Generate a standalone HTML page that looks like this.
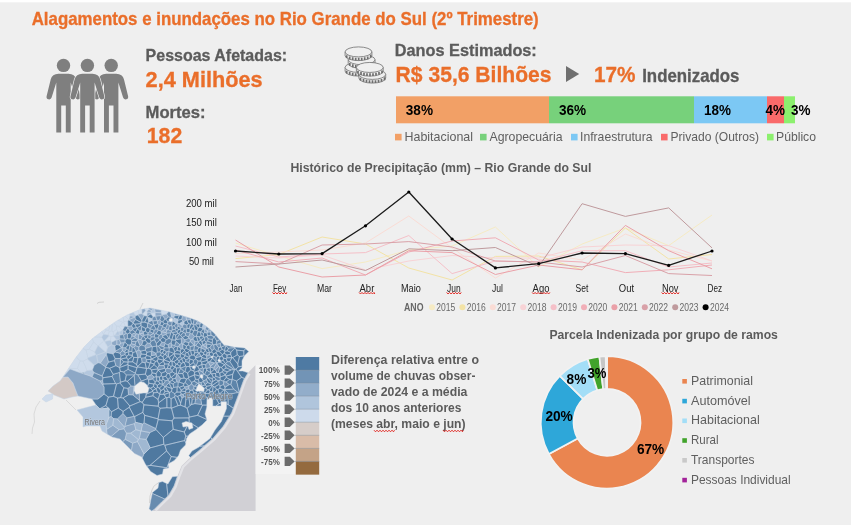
<!DOCTYPE html>
<html lang="pt-BR"><head><meta charset="utf-8"><title>Alagamentos e inundações no Rio Grande do Sul</title>
<style>
html,body{margin:0;padding:0;background:#efefef;}
body{width:851px;height:525px;overflow:hidden;font-family:"Liberation Sans", sans-serif;}
svg{display:block;font-family:"Liberation Sans", sans-serif;}
</style></head><body>
<svg width="851" height="525" viewBox="0 0 851 525">
<rect x="0" y="0" width="851" height="525" fill="#efefef"/>
<rect x="0" y="0" width="851" height="2.3" fill="#ffffff"/>
<text x="31.7" y="25.2" font-size="17.8" fill="#ea6e2a" font-weight="bold" textLength="507" lengthAdjust="spacingAndGlyphs" stroke="#ea6e2a" stroke-width="0.3">Alagamentos e inundações no Rio Grande do Sul (2º Trimestre)</text>
<g fill="#7f7f7f">
<circle cx="63.5" cy="65.4" r="6.7"/><path d="M58.5,73.8 L68.5,73.8 Q74.9,74 76.3,79.5 L80.4,96.2 A2.6 2.6 0 0 1 75.4,97.6 L70.7,82.5 L70.7,132.4 L65.8,132.4 L65.8,105.6 L61.2,105.6 L61.2,132.4 L56.3,132.4 L56.3,82.5 L51.6,97.6 A2.6 2.6 0 0 1 46.6,96.2 L50.7,79.5 Q52.1,74 58.5,73.8 Z"/>
<circle cx="111.2" cy="65.4" r="6.7"/><path d="M106.2,73.8 L116.2,73.8 Q122.60000000000001,74 124.0,79.5 L128.1,96.2 A2.6 2.6 0 0 1 123.10000000000001,97.6 L118.4,82.5 L118.4,132.4 L113.5,132.4 L113.5,105.6 L108.9,105.6 L108.9,132.4 L104.0,132.4 L104.0,82.5 L99.3,97.6 A2.6 2.6 0 0 1 94.30000000000001,96.2 L98.4,79.5 Q99.8,74 106.2,73.8 Z"/>
<circle cx="87.4" cy="65.4" r="6.7"/><path d="M82.4,73.8 L92.4,73.8 Q98.80000000000001,74 100.2,79.5 L104.30000000000001,96.2 A2.6 2.6 0 0 1 99.30000000000001,97.6 L94.60000000000001,82.5 L94.60000000000001,132.4 L89.7,132.4 L89.7,105.6 L85.10000000000001,105.6 L85.10000000000001,132.4 L80.2,132.4 L80.2,82.5 L75.5,97.6 A2.6 2.6 0 0 1 70.5,96.2 L74.60000000000001,79.5 Q76.0,74 82.4,73.8 Z" stroke="#efefef" stroke-width="1.3" paint-order="stroke"/>
</g>
<text x="145.6" y="61" font-size="16.5" fill="#5b5b5b" font-weight="bold" textLength="141.5" lengthAdjust="spacingAndGlyphs" stroke="#5b5b5b" stroke-width="0.3">Pessoas Afetadas:</text>
<text x="145.6" y="87" font-size="22" fill="#ea6e2a" font-weight="bold" textLength="117" lengthAdjust="spacingAndGlyphs" stroke="#ea6e2a" stroke-width="0.3">2,4 Milhões</text>
<text x="145.6" y="117.5" font-size="16.5" fill="#5b5b5b" font-weight="bold" textLength="60" lengthAdjust="spacingAndGlyphs" stroke="#5b5b5b" stroke-width="0.3">Mortes:</text>
<text x="146.8" y="143.3" font-size="22" fill="#ea6e2a" font-weight="bold" textLength="35.4" lengthAdjust="spacingAndGlyphs" stroke="#ea6e2a" stroke-width="0.3">182</text>
<g>
<path d="M345.1,67.4 L345.1,71.10000000000001 A13.4 5.0 0 0 0 371.9,71.10000000000001 L371.9,67.4 Z" fill="#efefef" stroke="#6e6e6e" stroke-width="0.8"/><path d="M346.70,70.67v2.80M349.70,72.07v2.80M352.70,72.81v2.80M355.70,73.19v2.80M358.70,73.30v2.80M361.70,73.16v2.80M364.70,72.73v2.80M367.70,71.94v2.80M370.70,70.37v2.80" fill="none" stroke="#6e6e6e" stroke-width="1.7"/><ellipse cx="358.5" cy="67.4" rx="13.4" ry="5.0" fill="#efefef" stroke="#6e6e6e" stroke-width="0.8"/>
<path d="M348.20000000000005,59.7 L348.20000000000005,63.400000000000006 A13.4 5.0 0 0 0 375.0,63.400000000000006 L375.0,59.7 Z" fill="#efefef" stroke="#6e6e6e" stroke-width="0.8"/><path d="M349.80,62.97v2.80M352.80,64.37v2.80M355.80,65.11v2.80M358.80,65.49v2.80M361.80,65.60v2.80M364.80,65.46v2.80M367.80,65.03v2.80M370.80,64.24v2.80M373.80,62.67v2.80" fill="none" stroke="#6e6e6e" stroke-width="1.7"/><ellipse cx="361.6" cy="59.7" rx="13.4" ry="5.0" fill="#efefef" stroke="#6e6e6e" stroke-width="0.8"/>
<path d="M345.1,51.9 L345.1,55.6 A13.4 5.0 0 0 0 371.9,55.6 L371.9,51.9 Z" fill="#efefef" stroke="#6e6e6e" stroke-width="0.8"/><path d="M346.70,55.17v2.80M349.70,56.57v2.80M352.70,57.31v2.80M355.70,57.69v2.80M358.70,57.80v2.80M361.70,57.66v2.80M364.70,57.23v2.80M367.70,56.44v2.80M370.70,54.87v2.80" fill="none" stroke="#6e6e6e" stroke-width="1.7"/><ellipse cx="358.5" cy="51.9" rx="13.4" ry="5.0" fill="#efefef" stroke="#6e6e6e" stroke-width="0.8"/>
<path d="M358.90000000000003,74.4 L358.90000000000003,78.10000000000001 A13.4 5.0 0 0 0 385.7,78.10000000000001 L385.7,74.4 Z" fill="#efefef" stroke="#6e6e6e" stroke-width="0.8"/><path d="M360.50,77.67v2.80M363.50,79.07v2.80M366.50,79.81v2.80M369.50,80.19v2.80M372.50,80.30v2.80M375.50,80.16v2.80M378.50,79.73v2.80M381.50,78.94v2.80M384.50,77.37v2.80" fill="none" stroke="#6e6e6e" stroke-width="1.7"/><ellipse cx="372.3" cy="74.4" rx="13.4" ry="5.0" fill="#efefef" stroke="#6e6e6e" stroke-width="0.8"/>
<path d="M356.40000000000003,67.45 L356.40000000000003,71.15 A13.4 5.0 0 0 0 383.2,71.15 L383.2,67.45 Z" fill="#efefef" stroke="#6e6e6e" stroke-width="0.8"/><path d="M358.00,70.72v2.80M361.00,72.12v2.80M364.00,72.86v2.80M367.00,73.24v2.80M370.00,73.35v2.80M373.00,73.21v2.80M376.00,72.78v2.80M379.00,71.99v2.80M382.00,70.42v2.80" fill="none" stroke="#6e6e6e" stroke-width="1.7"/><ellipse cx="369.8" cy="67.45" rx="13.4" ry="5.0" fill="#efefef" stroke="#6e6e6e" stroke-width="0.8"/>
</g>
<text x="394.8" y="55.9" font-size="16.5" fill="#5b5b5b" font-weight="bold" textLength="142" lengthAdjust="spacingAndGlyphs" stroke="#5b5b5b" stroke-width="0.3">Danos Estimados:</text>
<text x="395.6" y="82.2" font-size="22" fill="#ea6e2a" font-weight="bold" textLength="156" lengthAdjust="spacingAndGlyphs" stroke="#ea6e2a" stroke-width="0.3">R$ 35,6 Bilhões</text>
<path d="M566,66 L579.2,74 L566,82 Z" fill="#6f6f6f"/>
<text x="594" y="82.2" font-size="22" fill="#ea6e2a" font-weight="bold" textLength="41.5" lengthAdjust="spacingAndGlyphs" stroke="#ea6e2a" stroke-width="0.3">17%</text>
<text x="642.2" y="82.2" font-size="17.8" fill="#5b5b5b" font-weight="bold" textLength="97.3" lengthAdjust="spacingAndGlyphs" stroke="#5b5b5b" stroke-width="0.3">Indenizados</text>
<rect x="396" y="96.3" width="153" height="27" fill="#f2a066"/>
<rect x="549" y="96.3" width="145" height="27" fill="#77d17b"/>
<rect x="694" y="96.3" width="73" height="27" fill="#7cc8f4"/>
<rect x="767" y="96.3" width="17" height="27" fill="#f96a6a"/>
<rect x="784" y="96.3" width="11" height="27" fill="#8cf06e"/>
<text x="405.8" y="114.6" font-size="14" fill="#000" font-weight="bold" textLength="27.2" lengthAdjust="spacingAndGlyphs">38%</text>
<text x="559" y="114.6" font-size="14" fill="#000" font-weight="bold" textLength="27.2" lengthAdjust="spacingAndGlyphs">36%</text>
<text x="704" y="114.6" font-size="14" fill="#000" font-weight="bold" textLength="27" lengthAdjust="spacingAndGlyphs">18%</text>
<text x="765.5" y="114.6" font-size="14" fill="#000" font-weight="bold" textLength="19.5" lengthAdjust="spacingAndGlyphs">4%</text>
<text x="791" y="114.6" font-size="14" fill="#000" font-weight="bold" textLength="19.5" lengthAdjust="spacingAndGlyphs">3%</text>
<rect x="395" y="133.8" width="6.6" height="6.6" fill="#f2a066"/>
<text x="404.5" y="141" font-size="13.3" fill="#5f5f5f" textLength="68.5" lengthAdjust="spacingAndGlyphs">Habitacional</text>
<rect x="480" y="133.8" width="6.6" height="6.6" fill="#77d17b"/>
<text x="489.5" y="141" font-size="13.3" fill="#5f5f5f" textLength="73" lengthAdjust="spacingAndGlyphs">Agropecuária</text>
<rect x="571" y="133.8" width="6.6" height="6.6" fill="#7cc8f4"/>
<text x="580" y="141" font-size="13.3" fill="#5f5f5f" textLength="72.5" lengthAdjust="spacingAndGlyphs">Infraestrutura</text>
<rect x="661" y="133.8" width="6.6" height="6.6" fill="#f96a6a"/>
<text x="670.5" y="141" font-size="13.3" fill="#5f5f5f" textLength="88.5" lengthAdjust="spacingAndGlyphs">Privado (Outros)</text>
<rect x="767" y="133.8" width="6.6" height="6.6" fill="#8cf06e"/>
<text x="776" y="141" font-size="13.3" fill="#5f5f5f" textLength="40" lengthAdjust="spacingAndGlyphs">Público</text>
<text x="290.4" y="172.1" font-size="12.5" fill="#5b5b5b" font-weight="bold" textLength="301" lengthAdjust="spacingAndGlyphs">Histórico de Precipitação (mm) – Rio Grande do Sul</text>
<text x="201.4" y="206.8" font-size="10.5" fill="#222" text-anchor="middle" textLength="31" lengthAdjust="spacingAndGlyphs">200 mil</text>
<text x="201.4" y="226.3" font-size="10.5" fill="#222" text-anchor="middle" textLength="31" lengthAdjust="spacingAndGlyphs">150 mil</text>
<text x="201.4" y="245.8" font-size="10.5" fill="#222" text-anchor="middle" textLength="31" lengthAdjust="spacingAndGlyphs">100 mil</text>
<text x="201.4" y="265.0" font-size="10.5" fill="#222" text-anchor="middle" textLength="25" lengthAdjust="spacingAndGlyphs">50 mil</text>
<g fill="none" stroke-width="1" stroke-linejoin="round">
<polyline stroke="#f6ebc4" points="235.5,243 278.8,256 322.1,268.6 365.5,262 408.8,250 452.1,246 495.4,227 538.7,267 582.1,244 625.4,228 668.7,245.6 712.0,215"/>
<polyline stroke="#f3e3a6" points="235.5,258.6 278.8,254.5 322.1,237 365.5,244 408.8,268 452.1,280 495.4,256.4 538.7,256 582.1,269.8 625.4,228 668.7,259 712.0,254.5"/>
<polyline stroke="#fadcd5" points="235.5,253.5 278.8,252 322.1,250 365.5,243 408.8,216 452.1,248 495.4,278 538.7,253 582.1,260 625.4,234 668.7,250 712.0,261"/>
<polyline stroke="#f8d3d6" points="235.5,256 278.8,258 322.1,255 365.5,270 408.8,261 452.1,255.5 495.4,258 538.7,258 582.1,247 625.4,245 668.7,245.6 712.0,261"/>
<polyline stroke="#f5c0c8" points="235.5,246 278.8,257 322.1,254 365.5,252.6 408.8,235.5 452.1,273.6 495.4,261 538.7,262 582.1,250.7 625.4,250.7 668.7,267 712.0,263"/>
<polyline stroke="#f1aeb7" points="235.5,250 278.8,262 322.1,258 365.5,275 408.8,252 452.1,241 495.4,237.8 538.7,260 582.1,262 625.4,272.6 668.7,269.8 712.0,265"/>
<polyline stroke="#eaa0a8" points="235.5,240 278.8,267 322.1,277 365.5,275 408.8,250.7 452.1,252.6 495.4,274.5 538.7,265 582.1,269.8 625.4,225.4 668.7,250.7 712.0,268.8"/>
<polyline stroke="#d9a1a8" points="235.5,261.6 278.8,264 322.1,245 365.5,244 408.8,241.6 452.1,247 495.4,261 538.7,262 582.1,267 625.4,255.5 668.7,273.6 712.0,275.5"/>
<polyline stroke="#bf9a9d" points="235.5,267 278.8,264 322.1,260 365.5,270.5 408.8,248.8 452.1,250.7 495.4,247.5 538.7,266.5 582.1,203.7 625.4,216.4 668.7,207.9 712.0,247.9"/>
</g>
<polyline fill="none" stroke="#1b1b1b" stroke-width="1.3" stroke-linejoin="round" points="235.5,251 278.8,254 322.1,253.6 365.5,225.8 408.8,192 452.1,239 495.4,267.9 538.7,263.7 582.1,253 625.4,253.6 668.7,265.4 712.0,251"/>
<circle cx="235.5" cy="251" r="1.6" fill="#000"/>
<circle cx="278.8" cy="254" r="1.6" fill="#000"/>
<circle cx="322.1" cy="253.6" r="1.6" fill="#000"/>
<circle cx="365.5" cy="225.8" r="1.6" fill="#000"/>
<circle cx="408.8" cy="192" r="1.6" fill="#000"/>
<circle cx="452.1" cy="239" r="1.6" fill="#000"/>
<circle cx="495.4" cy="267.9" r="1.6" fill="#000"/>
<circle cx="538.7" cy="263.7" r="1.6" fill="#000"/>
<circle cx="582.1" cy="253" r="1.6" fill="#000"/>
<circle cx="625.4" cy="253.6" r="1.6" fill="#000"/>
<circle cx="668.7" cy="265.4" r="1.6" fill="#000"/>
<circle cx="712.0" cy="251" r="1.6" fill="#000"/>
<text x="236" y="292.2" font-size="10.5" fill="#222" text-anchor="middle" textLength="13" lengthAdjust="spacingAndGlyphs">Jan</text>
<text x="279.6" y="292.2" font-size="10.5" fill="#222" text-anchor="middle" textLength="13.3" lengthAdjust="spacingAndGlyphs">Fev</text>
<text x="324.5" y="292.2" font-size="10.5" fill="#222" text-anchor="middle" textLength="15" lengthAdjust="spacingAndGlyphs">Mar</text>
<text x="366.9" y="292.2" font-size="10.5" fill="#222" text-anchor="middle" textLength="14.8" lengthAdjust="spacingAndGlyphs">Abr</text>
<text x="410.9" y="292.2" font-size="10.5" fill="#222" text-anchor="middle" textLength="19.8" lengthAdjust="spacingAndGlyphs">Maio</text>
<text x="453.9" y="292.2" font-size="10.5" fill="#222" text-anchor="middle" textLength="13.6" lengthAdjust="spacingAndGlyphs">Jun</text>
<text x="497.4" y="292.2" font-size="10.5" fill="#222" text-anchor="middle" textLength="11" lengthAdjust="spacingAndGlyphs">Jul</text>
<text x="541" y="292.2" font-size="10.5" fill="#222" text-anchor="middle" textLength="16.8" lengthAdjust="spacingAndGlyphs">Ago</text>
<text x="582" y="292.2" font-size="10.5" fill="#222" text-anchor="middle" textLength="12.8" lengthAdjust="spacingAndGlyphs">Set</text>
<text x="626.4" y="292.2" font-size="10.5" fill="#222" text-anchor="middle" textLength="15.3" lengthAdjust="spacingAndGlyphs">Out</text>
<text x="670.3" y="292.2" font-size="10.5" fill="#222" text-anchor="middle" textLength="16.4" lengthAdjust="spacingAndGlyphs">Nov</text>
<text x="714.9" y="292.2" font-size="10.5" fill="#222" text-anchor="middle" textLength="14.6" lengthAdjust="spacingAndGlyphs">Dez</text>
<path d="M272.45000000000005,292.4 L274.0,294.0 L275.5,292.4 L277.0,294.0 L278.5,292.4 L280.0,294.0 L281.5,292.4 L283.0,294.0 L284.5,292.4 L286.0,294.0 L286.8,292.4" fill="none" stroke="#e0221c" stroke-width="0.95"/>
<path d="M359.0,292.4 L360.5,294.0 L362.0,292.4 L363.5,294.0 L365.0,292.4 L366.5,294.0 L368.0,292.4 L369.5,294.0 L371.0,292.4 L372.5,294.0 L374.0,292.4 L374.8,294.0" fill="none" stroke="#e0221c" stroke-width="0.95"/>
<path d="M446.59999999999997,292.4 L448.1,294.0 L449.6,292.4 L451.1,294.0 L452.6,292.4 L454.1,294.0 L455.6,292.4 L457.1,294.0 L458.6,292.4 L460.1,294.0 L461.2,292.4" fill="none" stroke="#e0221c" stroke-width="0.95"/>
<path d="M532.1,292.4 L533.6,294.0 L535.1,292.4 L536.6,294.0 L538.1,292.4 L539.6,294.0 L541.1,292.4 L542.6,294.0 L544.1,292.4 L545.6,294.0 L547.1,292.4 L548.6,294.0 L549.9,292.4" fill="none" stroke="#e0221c" stroke-width="0.95"/>
<path d="M661.5999999999999,292.4 L663.1,294.0 L664.6,292.4 L666.1,294.0 L667.6,292.4 L669.1,294.0 L670.6,292.4 L672.1,294.0 L673.6,292.4 L675.1,294.0 L676.6,292.4 L678.1,294.0 L679.0,292.4" fill="none" stroke="#e0221c" stroke-width="0.95"/>
<text x="404" y="311" font-size="10" fill="#666" font-weight="bold" textLength="19.5" lengthAdjust="spacingAndGlyphs">ANO</text>
<circle cx="432.0" cy="307.3" r="3" fill="#f6ebc4"/>
<text x="436.3" y="311" font-size="10.5" fill="#6a6a6a" textLength="19" lengthAdjust="spacingAndGlyphs">2015</text>
<circle cx="462.4" cy="307.3" r="3" fill="#f3e3a6"/>
<text x="466.7" y="311" font-size="10.5" fill="#6a6a6a" textLength="19" lengthAdjust="spacingAndGlyphs">2016</text>
<circle cx="492.8" cy="307.3" r="3" fill="#fadcd5"/>
<text x="497.1" y="311" font-size="10.5" fill="#6a6a6a" textLength="19" lengthAdjust="spacingAndGlyphs">2017</text>
<circle cx="523.2" cy="307.3" r="3" fill="#f8d3d6"/>
<text x="527.5" y="311" font-size="10.5" fill="#6a6a6a" textLength="19" lengthAdjust="spacingAndGlyphs">2018</text>
<circle cx="553.6" cy="307.3" r="3" fill="#f5c0c8"/>
<text x="557.9" y="311" font-size="10.5" fill="#6a6a6a" textLength="19" lengthAdjust="spacingAndGlyphs">2019</text>
<circle cx="584.0" cy="307.3" r="3" fill="#f1aeb7"/>
<text x="588.3" y="311" font-size="10.5" fill="#6a6a6a" textLength="19" lengthAdjust="spacingAndGlyphs">2020</text>
<circle cx="614.4" cy="307.3" r="3" fill="#eaa0a8"/>
<text x="618.7" y="311" font-size="10.5" fill="#6a6a6a" textLength="19" lengthAdjust="spacingAndGlyphs">2021</text>
<circle cx="644.8" cy="307.3" r="3" fill="#d9a1a8"/>
<text x="649.1" y="311" font-size="10.5" fill="#6a6a6a" textLength="19" lengthAdjust="spacingAndGlyphs">2022</text>
<circle cx="675.2" cy="307.3" r="3" fill="#bf9a9d"/>
<text x="679.5" y="311" font-size="10.5" fill="#6a6a6a" textLength="19" lengthAdjust="spacingAndGlyphs">2023</text>
<circle cx="705.6" cy="307.3" r="3" fill="#000"/>
<text x="709.9" y="311" font-size="10.5" fill="#6a6a6a" textLength="19" lengthAdjust="spacingAndGlyphs">2024</text>
<g>
<path d="M255.6,365 L255.6,511 L151.6,511 L154,509.6 L161.6,502 L168.8,495 L174,486 L177.9,475 L181.5,466 L188.7,459 L199,450.5 L212.8,438.5 L223,426.5 L231.6,412.8 L236.8,399 L243.6,380 L248,372.8 Z" fill="#d1d0d5"/>
<path d="M40,401 L36,407 L34,414 L34.5,422 L32.5,428 L32,434" fill="none" stroke="#d4d4d4" stroke-width="0.8"/>
<path d="M66,400 L71,405 L76,410" fill="none" stroke="#d4d4d4" stroke-width="0.8"/>
<path d="M97,303.5 L99,302.3 L104,302" fill="none" stroke="#c4c4c4" stroke-width="0.7"/>
<path d="M140,309 L143,303" fill="none" stroke="#c9c9c9" stroke-width="0.7"/>
<path d="M158.9,482.4 L154,486 L152,490 L150,496 L149.5,503" fill="none" stroke="#c9c9c9" stroke-width="0.7"/>
<g stroke="#c6d5e5" stroke-width="0.5" stroke-linejoin="round">
<path fill="#cfdcec" d="M123.8,321.6 123.1,317.3 117.9,320.3 122.6,322.2 123.5,321.9ZM86.1,350.0 82.9,348.5 76.3,357.0 80.2,360.8 83.1,361.1 87.4,359.1 87.9,357.8ZM65.7,372.9 63.0,377.0 66.3,373.3ZM93.6,342.1 89.2,349.2 94.7,352.0 97.9,345.8ZM138.9,314.1 138.2,310.3 133.4,312.3 135.7,315.8 137.9,315.0ZM98.4,345.8 103.8,341.0 101.6,337.2 94.5,337.0 92.5,338.5 92.4,338.6 93.6,342.1 97.9,345.8ZM130.0,315.8 129.2,314.1 127.0,315.0 125.2,316.1 128.8,319.8 129.0,319.5ZM146.8,316.1 147.3,312.1 146.8,311.3 145.6,310.8 142.6,314.0 144.1,315.8ZM108.7,330.6 106.2,330.1 103.5,334.2 103.5,334.3 108.3,335.0 109.3,331.3ZM116.5,325.9 116.3,329.5 117.6,331.2 119.0,331.9 121.9,330.3 119.1,326.3ZM92.4,338.6 84.0,347.0 82.9,348.5 86.1,350.0 89.2,349.2 93.6,342.1ZM101.6,337.2 103.5,334.3 103.5,334.2 101.7,331.6 94.5,337.0ZM127.8,320.9 128.8,319.9 128.8,319.8 125.2,316.1 123.1,317.3 123.8,321.6ZM76.3,357.0 75.5,358.0 68.5,368.5 68.3,368.8 77.4,368.3 80.2,360.8ZM89.2,349.2 86.1,350.0 87.9,357.8 95.7,354.8 94.7,352.0ZM106.2,330.1 105.5,328.8 104.5,329.5 101.7,331.6 103.5,334.2ZM113.5,335.9 113.7,335.6 113.0,331.8 111.9,331.1 109.3,331.3 108.3,335.0 109.1,335.9 111.0,336.8ZM110.0,325.6 105.5,328.8 106.2,330.1 108.7,330.6ZM146.8,311.3 149.0,309.4 148.6,308.2 144.7,308.8 145.6,310.8ZM122.6,322.2 117.9,320.3 115.0,322.0 113.7,322.9 116.5,325.9 119.1,326.3 120.2,325.8ZM103.8,341.0 98.4,345.8 105.4,351.9 106.2,352.0 107.8,347.1 104.6,341.4 104.3,341.2ZM87.4,359.1 83.1,361.1 87.0,370.5 92.4,370.1 94.2,365.3ZM151.1,313.3 151.0,313.9 153.2,317.0 155.3,316.2 155.2,312.7ZM166.6,313.9 168.5,311.7 161.2,310.2 161.1,312.7 161.9,314.9ZM87.0,370.5 83.1,361.1 80.2,360.8 77.4,368.3 81.1,373.0 84.0,372.6ZM111.9,331.1 112.3,323.9 110.0,325.6 108.7,330.6 109.3,331.3ZM141.9,313.7 141.9,309.2 140.0,309.5 138.2,310.3 138.9,314.1ZM125.3,326.2 127.7,326.7 127.9,326.5 127.8,320.9 123.8,321.6 123.5,321.9ZM116.3,329.5 113.0,331.8 113.7,335.6 114.9,335.1 117.6,331.2ZM81.1,373.0 77.4,368.3 68.3,368.8 65.7,372.9 66.3,373.3 70.0,369.0 78.0,372.0 81.1,373.0ZM113.7,322.9 112.3,323.9 111.9,331.1 113.0,331.8 116.3,329.5 116.5,325.9ZM111.0,336.8 109.1,335.9 104.3,341.2 104.6,341.4 110.5,340.2ZM124.5,326.6 125.3,326.2 123.5,321.9 122.6,322.2 120.2,325.8ZM111.7,342.2 116.4,339.8 113.5,335.9 111.0,336.8 110.5,340.2ZM119.1,326.3 121.9,330.3 122.4,330.4 124.5,326.6 120.2,325.8Z"/>
<path fill="#b3c7de" d="M109.1,335.9 108.3,335.0 103.5,334.3 101.6,337.2 103.8,341.0 104.3,341.2ZM119.0,331.9 119.6,335.3 122.5,334.6 122.5,330.5 122.4,330.4 121.9,330.3ZM155.3,312.5 154.7,308.9 153.5,308.7 151.1,310.6 150.8,312.5 151.1,313.3 155.2,312.7ZM119.7,338.8 119.6,335.3 114.9,335.1 113.7,335.6 113.5,335.9 116.4,339.8 116.8,340.0 119.2,339.2ZM174.5,315.9 174.5,313.4 170.3,312.1 171.3,317.0 173.8,317.2ZM104.6,341.4 107.8,347.1 111.6,344.6 111.7,342.2 110.5,340.2ZM96.5,355.3 95.7,354.8 87.9,357.8 87.4,359.1 94.2,365.3 98.1,362.8ZM182.4,326.0 184.1,324.1 184.0,321.7 182.8,321.2 179.5,323.5ZM106.2,352.0 105.4,351.9 96.5,355.3 98.1,362.8 100.3,363.2 106.5,354.4 106.8,352.8ZM135.7,315.8 133.4,312.3 129.2,314.1 130.0,315.8 135.2,316.7ZM94.0,372.6 92.4,370.1 87.0,370.5 84.0,372.6 84.8,374.3 90.0,376.0 92.1,377.1ZM115.5,351.1 114.9,345.8 111.6,344.6 107.8,347.1 106.2,352.0 106.8,352.8 113.0,354.0 115.3,352.0ZM117.6,331.2 114.9,335.1 119.6,335.3 119.6,335.3 119.0,331.9ZM177.5,323.2 178.1,320.1 177.7,319.3 174.1,317.7 173.4,321.5 176.0,323.5 177.5,323.3ZM94.7,352.0 95.7,354.8 96.5,355.3 105.4,351.9 98.4,345.8 97.9,345.8ZM152.3,320.4 152.2,318.7 147.6,317.0 148.7,322.0ZM203.9,329.3 205.2,328.9 206.6,326.5 206.0,326.0 203.2,324.2 202.1,327.9 202.9,329.1Z"/>
<path fill="#8da8c6" d="M123.0,413.4 117.3,418.9 124.3,427.1 125.0,426.3 127.1,417.9ZM138.1,339.6 137.7,340.6 140.0,345.7 141.7,345.1 143.1,340.8 140.9,339.5 138.4,339.3ZM155.9,428.5 144.1,422.7 142.4,424.0 141.1,430.9 150.0,432.6 156.1,429.7ZM186.5,320.1 186.1,316.8 182.4,315.7 181.6,319.5 182.8,321.2 184.0,321.7ZM194.6,345.6 194.8,345.5 195.0,341.3 192.9,339.0 190.6,339.9 190.1,341.4 194.2,345.5ZM152.6,379.1 154.1,377.1 151.5,374.4 147.1,376.5 147.3,378.8 148.5,380.1ZM143.9,331.8 141.2,330.2 139.9,331.1 139.0,334.1 139.2,334.1 143.4,332.9ZM152.0,346.6 150.1,343.3 147.4,342.9 144.7,346.1 145.7,348.5ZM116.8,340.0 116.4,339.8 111.7,342.2 111.6,344.6 114.9,345.8 116.8,344.7ZM207.3,330.5 205.2,328.9 203.9,329.3 204.6,332.6 207.1,333.1 207.6,332.2ZM140.1,357.3 141.4,354.1 140.8,351.1 138.9,349.8 136.2,351.4 136.1,351.5 137.9,357.6 138.0,357.7ZM176.8,374.2 175.5,378.3 176.8,381.8 178.3,382.6 179.0,382.1 180.9,378.5 177.4,374.2ZM161.2,334.1 162.7,335.8 166.3,334.5 166.5,333.3 166.2,332.6 161.2,331.8ZM135.2,344.8 131.2,343.6 130.0,345.2 130.1,345.4 132.1,347.3 133.7,347.4 135.7,345.7ZM132.9,329.7 133.1,328.4 131.5,325.7 127.9,326.5 127.7,326.7 127.8,328.1 130.1,331.2ZM146.2,439.4 150.0,432.6 141.1,430.9 140.9,431.0 139.2,438.8ZM106.5,354.4 100.3,363.2 105.6,367.0 108.6,362.1ZM119.2,339.2 116.8,340.0 116.8,344.7 119.3,345.2 120.9,342.9ZM132.5,443.2 131.4,450.4 134.5,453.5 141.7,457.0 142.3,458.1 144.0,453.9 137.5,441.5ZM99.7,380.9 100.0,381.0 103.0,385.5 103.3,384.0 102.6,380.6ZM210.7,332.0 211.5,330.8 209.5,329.1 207.3,330.5 207.6,332.2ZM161.2,331.7 161.2,331.8 166.2,332.6 167.0,329.8 165.7,328.7ZM165.0,319.0 166.0,319.3 168.5,316.9 166.6,313.9 161.9,314.9 161.9,314.9ZM135.2,316.7 130.0,315.8 129.0,319.5 135.1,317.0ZM217.0,363.0 216.8,363.0 213.6,368.1 214.2,369.3 215.4,370.0 218.8,366.2ZM128.5,394.8 133.1,395.1 134.2,386.6 134.2,386.5 134.2,386.5 134.3,386.0 131.0,385.9 127.8,388.4ZM144.1,315.8 142.6,314.0 141.9,313.7 138.9,314.1 137.9,315.0 141.8,320.2ZM159.8,325.0 161.3,321.5 159.8,319.7 157.4,320.8 157.3,323.7 159.1,325.1ZM136.4,333.5 134.6,336.7 135.1,337.9 138.1,339.6 138.4,339.3 138.7,334.3ZM188.3,336.9 188.8,338.2 190.6,339.9 192.9,339.0 194.7,336.5 192.4,333.9 190.2,333.4ZM159.5,345.6 163.9,346.9 165.3,343.5 164.8,342.4 161.8,342.2ZM188.8,389.0 189.0,385.9 188.5,385.7 184.5,387.0 184.6,388.1 186.0,389.7ZM161.1,312.7 161.2,310.2 160.0,310.0 154.7,308.9 155.3,312.5ZM183.0,394.3 181.0,393.7 180.3,395.2 182.0,398.2 184.3,396.8ZM150.8,312.5 147.3,312.1 146.8,316.1 147.1,316.3 151.0,313.9 151.1,313.3ZM143.4,332.9 139.2,334.1 142.8,336.3 143.6,336.2 144.1,335.3ZM119.2,429.7 112.8,425.2 106.5,429.5 107.0,434.0 111.2,436.5ZM122.4,347.6 124.5,342.6 120.9,342.9 119.3,345.2 121.2,347.7 121.8,347.9ZM179.6,344.2 178.7,346.4 181.0,349.1 183.0,348.8 182.8,344.0 182.7,344.0 181.3,343.5ZM214.8,362.9 209.9,361.6 208.2,362.0 208.2,362.1 210.4,366.2ZM135.5,319.5 135.1,317.0 129.0,319.5 128.8,319.8 128.8,319.9 133.1,323.0ZM122.3,350.8 124.5,352.1 126.5,349.3 125.8,347.7 122.4,347.6 121.8,347.9ZM178.0,326.1 180.7,328.1 182.3,327.1 182.4,326.0 179.5,323.5 177.5,323.2 177.5,323.3ZM171.2,342.4 167.8,344.7 168.9,348.0 169.1,348.1 171.2,347.3 171.9,344.8ZM201.2,323.0 198.0,321.0 197.5,320.8 195.8,324.2 199.9,324.1ZM145.6,310.8 144.7,308.8 141.9,309.2 141.9,313.7 142.6,314.0ZM151.1,310.6 149.0,309.4 146.8,311.3 147.3,312.1 150.8,312.5ZM156.1,353.3 151.8,350.9 151.2,351.4 151.2,355.7 156.2,355.0ZM173.8,317.2 171.3,317.0 170.6,317.3 170.4,318.2 172.1,318.0 172.9,320.0 172.0,321.8 171.9,321.8 172.1,321.9 173.4,321.5 174.1,317.7ZM200.8,347.3 201.1,347.9 205.2,350.1 207.3,348.2 207.0,347.8 202.5,345.1 201.5,345.9ZM179.5,315.3 180.0,315.0 174.5,313.4 174.5,315.9ZM182.2,337.5 181.3,338.7 181.3,343.5 182.7,344.0 185.1,341.8 185.0,339.8 182.3,337.5ZM202.6,344.9 202.5,345.1 207.0,347.8 206.7,343.9 206.0,343.1ZM125.4,331.3 122.5,330.5 122.5,334.6 123.5,335.1 126.4,333.5ZM126.4,433.2 130.6,433.2 135.9,429.7 134.4,423.5 125.0,426.3 124.3,427.1 123.9,428.9ZM161.9,314.9 161.1,312.7 155.3,312.5 155.2,312.7 155.3,316.2 155.5,316.3 161.1,315.7 161.9,314.9ZM191.3,318.5 190.0,318.0 186.1,316.8 186.5,320.1 186.9,320.3 190.6,319.6ZM135.5,332.7 131.6,334.3 131.7,335.9 134.6,336.7 136.4,333.5ZM149.0,309.4 151.1,310.6 153.5,308.7 150.0,308.0 148.6,308.2Z"/>
<path fill="#5e85aa" d="M186.5,393.3 185.9,392.8 183.0,394.3 184.3,396.8 186.2,397.0 186.3,396.8ZM189.0,362.5 190.1,359.1 189.2,358.0 185.8,360.0 185.3,361.7ZM177.8,373.9 182.8,373.4 184.3,371.7 180.6,368.2ZM169.6,392.5 169.0,397.1 171.1,398.9 174.5,396.9 175.2,395.7 174.7,393.6 171.5,391.4 169.7,392.3ZM178.8,360.8 181.7,359.1 181.9,358.3 180.3,356.5 177.1,358.5 177.1,359.3ZM204.0,374.4 202.8,375.1 202.9,376.3 202.9,378.0 201.9,378.2 203.4,381.0 206.5,379.6 207.6,377.5 207.6,377.5 207.3,376.1 204.4,374.4ZM180.6,368.0 180.6,368.2 184.3,371.7 185.0,371.6 186.5,366.6 185.7,366.1ZM189.2,392.9 186.5,393.3 186.3,396.8 188.8,397.2 188.8,397.2 190.0,393.9ZM159.9,351.8 157.4,352.0 156.1,353.3 156.2,355.0 156.8,356.4 157.7,357.3 160.6,355.5 161.3,353.1ZM234.5,369.6 234.9,369.4 229.9,361.6 227.3,361.7 225.5,363.7 225.4,363.8 234.4,369.6ZM134.2,375.1 135.4,373.7 135.3,373.1 128.1,369.3 123.4,371.9 126.3,375.1ZM198.3,383.0 198.5,384.5 199.0,383.7 202.0,386.1 200.9,382.6 199.2,382.2ZM178.0,386.5 178.3,382.6 176.8,381.8 174.7,382.2 173.1,384.1 173.6,387.5 177.2,387.0ZM228.4,348.0 227.3,350.9 230.8,352.5 235.0,348.1 234.9,347.6ZM203.2,381.4 200.9,382.6 202.0,386.1 202.0,386.2 205.3,384.9 205.3,384.5ZM216.3,357.3 213.1,356.1 212.9,356.3 213.2,357.0 212.6,357.8 212.7,358.3 216.1,362.1ZM220.1,386.0 223.6,384.6 223.8,381.8 223.3,381.1 220.3,379.9 218.9,380.9 218.9,384.5ZM230.8,384.8 233.5,389.0 238.1,392.6 239.0,392.9 239.3,392.0 236.6,380.9 232.3,379.2 232.2,379.3ZM197.4,349.9 193.7,350.1 193.6,350.2 194.6,352.9 198.3,352.7ZM167.9,380.1 169.3,381.9 172.2,380.5 172.8,379.0 171.5,377.2 170.6,377.0 167.9,379.4ZM135.4,373.7 134.2,375.1 134.1,375.4 134.9,385.7 135.1,385.8 137.2,384.1 140.0,381.7 141.1,381.9 141.4,381.1 137.9,374.8ZM226.0,382.0 229.2,384.6 230.8,384.8 232.2,379.3 229.7,379.3ZM195.6,358.9 193.5,360.2 193.2,362.7 196.1,365.8 196.4,365.8 198.2,361.0ZM207.3,376.1 210.7,373.4 210.7,372.6 210.6,372.4 206.7,370.1 204.4,374.4ZM197.5,383.2 194.0,381.1 191.6,382.3 191.6,384.1 194.0,386.4 194.3,386.4ZM198.4,379.5 195.5,379.1 194.0,381.1 197.5,383.2 198.3,383.0 199.2,382.2ZM184.8,355.3 186.3,352.6 184.5,350.6 181.2,353.7ZM238.1,392.6 233.5,389.0 224.8,389.5 224.6,389.8 224.7,390.1 229.3,394.2ZM155.2,382.0 156.8,380.9 156.7,376.8 156.3,376.6 154.1,377.1 152.6,379.1ZM188.2,378.3 186.5,378.9 185.0,382.6 188.5,385.7 189.0,385.9 191.6,384.1 191.6,382.3ZM120.5,358.7 120.0,366.3 123.9,361.8 121.2,358.9ZM197.5,383.2 194.3,386.4 197.0,387.1 197.0,387.0 198.5,384.5 198.3,383.0ZM215.7,376.2 214.5,377.4 215.8,379.8 218.8,380.9 218.9,380.9 220.3,379.9 220.1,377.6ZM225.4,363.8 224.5,364.6 224.5,364.6 226.1,368.1 231.0,370.0 234.4,369.6ZM119.5,372.4 113.2,374.3 112.0,376.4 115.5,383.6 116.5,384.1 120.0,383.0 120.5,382.2Z"/>
<path fill="#4f79a0" d="M166.9,407.7 166.8,397.7 165.9,397.5 158.6,402.8 158.2,406.2 160.0,408.3ZM221.5,367.4 224.5,364.6 224.5,364.6 220.0,362.1 218.3,362.2 217.0,363.0 218.8,366.2 219.7,367.0ZM212.1,385.2 206.4,386.4 206.1,387.8 207.4,389.9 209.1,389.8 212.4,385.6 212.3,385.4ZM198.9,353.1 198.3,352.7 194.6,352.9 194.0,355.0 195.6,357.1ZM239.3,392.0 243.6,380.0 244.5,378.5 241.6,377.3 236.6,380.9ZM216.1,352.7 217.1,351.2 214.3,348.7 211.9,350.6 211.6,352.1 213.6,353.8ZM207.2,360.4 201.5,362.0 201.9,364.2 205.8,364.8 208.2,362.1 208.2,362.0ZM216.1,362.1 212.7,358.3 209.9,361.6 214.8,362.9 216.4,362.7ZM197.7,366.4 199.3,369.3 202.5,368.0 201.8,364.5ZM173.6,387.5 172.0,388.7 171.5,391.4 174.7,393.6 176.9,392.1 177.2,387.0ZM180.4,367.7 180.6,368.0 185.7,366.1 184.3,362.7 183.4,362.5 181.3,363.3 180.1,366.3ZM112.0,376.4 102.8,377.8 102.6,380.6 103.3,384.0 115.5,383.6ZM186.3,352.6 184.8,355.3 184.9,355.6 189.2,357.3 189.6,356.4 187.9,352.5ZM175.0,367.1 176.4,367.9 180.4,367.7 180.1,366.3 176.9,364.1 176.0,364.2 174.9,366.9ZM137.9,374.8 141.4,381.1 147.3,378.8 147.1,376.5 145.4,374.1ZM126.3,375.1 123.4,371.9 120.3,371.3 119.5,372.4 120.5,382.2 125.1,380.8ZM144.1,422.7 144.7,415.3 142.8,412.4 134.6,416.6 135.3,422.2 142.4,424.0ZM176.4,374.0 176.8,374.2 177.4,374.2 177.8,373.9 180.6,368.2 180.6,368.0 180.4,367.7 176.4,367.9ZM141.6,358.2 145.4,357.8 146.5,355.4 146.3,354.5 141.4,354.1 140.1,357.3ZM230.8,352.5 230.6,354.2 231.9,357.5 232.7,357.6 237.3,354.8 236.6,350.1 235.0,348.1ZM179.3,387.3 183.6,385.7 183.8,383.6 179.0,382.1 178.3,382.6 178.0,386.5ZM210.8,395.3 212.4,398.0 212.8,398.0 212.8,398.7 212.9,398.8 215.5,397.1 216.4,395.6 214.0,393.2 213.8,393.2ZM232.2,379.3 232.3,379.2 232.7,374.3 226.0,376.1 226.2,377.5 229.7,379.3ZM114.5,360.6 108.6,362.1 105.6,367.0 105.7,367.2 109.6,368.3 115.9,365.6ZM201.9,357.5 201.5,356.4 201.2,356.3 195.8,357.7 195.6,358.9 198.2,361.0 200.6,361.1ZM188.8,397.2 188.8,397.2 190.1,405.4 191.6,404.5 192.4,397.5ZM162.8,376.8 165.9,376.3 167.3,373.5 165.6,371.4 161.3,373.2 161.3,375.9ZM189.2,392.9 190.0,390.3 188.8,389.0 186.0,389.7 185.5,391.7 185.9,392.8 186.5,393.3ZM205.2,350.7 203.6,352.8 203.8,354.3 206.1,355.2 207.3,352.7ZM147.5,386.1 148.2,387.3 150.6,388.2 153.5,386.6 153.9,384.0 148.8,383.2ZM166.9,467.8 168.1,464.7 168.0,464.0 168.5,463.7 171.2,456.5 166.6,450.9 150.1,465.3ZM202.5,405.1 197.6,415.3 206.8,419.5 205.0,414.0 206.8,407.0 206.8,405.1ZM146.7,368.6 145.4,374.1 147.1,376.5 151.5,374.4 152.1,372.9 151.5,369.8 149.9,368.7 148.4,368.2ZM204.2,388.4 204.0,391.4 202.9,391.3 203.0,391.8 204.9,393.1 207.4,389.9 206.1,387.8ZM159.4,376.9 159.7,380.1 162.0,380.4 162.9,379.2 162.8,376.8 161.3,375.9ZM132.5,356.3 132.3,355.3 128.5,354.9 126.6,356.3 126.7,357.8 128.0,359.7ZM189.9,364.9 193.2,362.7 193.5,360.2 190.1,359.1 189.0,362.5ZM153.9,364.0 155.6,361.4 151.4,359.1 151.3,359.1 151.0,359.4 150.6,362.8ZM217.1,395.5 220.9,400.1 221.9,395.3 219.8,393.8 219.3,393.7ZM165.7,369.0 164.8,368.3 158.2,369.8 158.2,370.0 161.3,373.2 165.6,371.4ZM172.8,379.0 172.2,380.5 174.7,382.2 176.8,381.8 175.5,378.3ZM226.1,358.6 226.9,357.9 227.0,355.0 224.1,353.3 222.4,354.7 222.0,355.8 223.6,358.2ZM197.6,395.6 199.8,394.6 200.5,392.3 198.5,391.1 197.6,391.1 196.2,392.8ZM173.9,361.7 177.1,359.3 177.1,358.5 174.7,355.5 171.6,361.2 172.0,361.4ZM206.1,387.8 206.4,386.4 205.3,384.9 202.0,386.2 204.2,388.0 204.2,388.4ZM129.3,351.2 128.9,350.4 126.5,349.3 124.5,352.1 125.0,353.0 128.9,351.6ZM189.4,366.4 189.6,366.6 192.7,366.3 192.9,366.0 194.4,365.5 194.8,366.1 196.0,366.0 196.1,365.8 193.2,362.7 189.9,364.9ZM218.9,380.9 218.8,380.9 212.3,385.4 212.4,385.6 213.1,386.3 214.5,386.9 218.9,384.5ZM163.8,444.2 164.8,445.3 184.7,440.5 185.7,436.1 184.3,432.0 173.2,429.3 163.3,437.4ZM205.2,350.1 201.1,347.9 200.9,351.6 203.6,352.8 205.2,350.7ZM171.2,456.5 168.5,463.7 174.0,460.7 177.0,457.4ZM166.9,467.8 167.1,468.3 168.8,468.0 168.1,464.7ZM189.2,358.0 190.1,359.1 193.5,360.2 195.6,358.9 195.8,357.7 195.6,357.1 194.0,355.0 191.6,355.1 189.6,356.4 189.2,357.3ZM158.6,402.8 165.9,397.5 164.2,394.6 163.5,394.3 159.8,394.3 158.1,399.4ZM215.6,373.4 211.6,373.8 213.3,377.3 214.5,377.4 215.7,376.2ZM123.1,411.4 118.3,408.0 111.4,411.8 111.1,416.6 113.7,418.7 117.3,418.9 123.0,413.4ZM238.3,366.8 242.0,366.2 242.0,360.8 244.2,356.2 243.8,355.9 239.5,356.5 237.7,363.9ZM171.5,391.4 172.0,388.7 171.8,388.5 165.5,386.2 165.1,386.4 168.4,391.5 169.7,392.3ZM181.1,390.2 184.6,388.1 184.5,387.0 183.6,385.7 179.3,387.3ZM243.8,350.8 243.8,355.9 244.2,356.2 244.5,355.7 248.8,351.4 245.5,348.8ZM223.0,360.1 220.4,361.8 220.3,361.9 220.2,361.9 220.0,362.1 224.5,364.6 225.4,363.8 225.5,363.7ZM184.5,350.6 184.4,349.5 183.0,348.8 181.0,349.1 180.1,351.0 180.9,353.7 181.2,353.7ZM150.1,363.2 146.0,361.7 145.1,362.7 146.3,368.4 146.7,368.6 148.4,368.2ZM197.6,391.1 195.7,391.0 196.0,390.0 193.6,388.6 192.6,390.0 193.9,393.0 196.2,392.8ZM219.0,403.7 215.8,406.0 221.0,406.0 221.0,402.9ZM229.5,416.2 231.6,412.8 233.3,408.2 228.2,404.6 226.5,403.8 226.5,408.5 223.5,416.2ZM145.6,397.3 142.2,402.3 143.9,404.8 158.2,406.2 158.6,402.8 158.1,399.4 152.9,395.8ZM129.8,406.0 129.3,407.2 134.2,416.4 134.6,416.6 142.8,412.4 143.9,404.8 142.2,402.3 140.2,401.6ZM179.0,361.7 178.8,360.8 177.1,359.3 173.9,361.7 176.0,364.2 176.9,364.1ZM146.3,368.4 137.5,366.9 137.0,367.7 135.3,373.1 135.4,373.7 137.9,374.8 145.4,374.1 146.7,368.6ZM224.5,395.2 221.9,395.3 220.9,400.1 221.4,401.7 224.9,401.7 224.9,395.6ZM190.9,369.9 193.6,371.0 196.0,366.0 194.8,366.1 195.4,367.0 194.5,368.7 192.7,368.4 192.1,367.0 192.7,366.3 189.6,366.6ZM157.3,385.3 157.4,387.4 159.4,388.0 163.0,384.8 162.9,384.8 162.4,384.3 159.8,383.7ZM229.3,394.2 224.7,390.1 224.5,395.2 224.9,395.6 228.0,395.2ZM159.8,394.3 163.5,394.3 164.9,391.2 163.7,389.0 160.8,390.7 159.7,393.9ZM162.9,379.2 165.5,380.8 167.9,380.1 167.9,379.4 165.9,376.3 162.8,376.8ZM210.7,372.6 214.2,369.3 213.6,368.1 210.5,367.1 210.1,367.5 210.6,372.4ZM194.0,355.0 194.6,352.9 193.6,350.2 190.5,350.4 191.6,355.1ZM153.9,384.0 153.5,386.6 155.8,388.7 156.0,388.7 157.4,387.4 157.3,385.3 154.8,383.5ZM214.5,377.4 213.3,377.3 212.2,378.4 212.5,381.5 215.8,379.8ZM151.2,355.7 151.2,351.4 146.8,352.2 146.3,354.5 146.5,355.4 150.6,356.6ZM103.3,384.0 103.0,385.5 104.0,387.0 104.0,393.9 108.4,397.1 113.5,396.3 116.5,384.1 115.5,383.6ZM199.9,446.3 199.0,447.0 192.0,451.0 188.8,455.6 190.3,457.6 199.0,450.5 204.4,445.8ZM205.8,364.8 201.9,364.2 201.8,364.5 202.5,368.0 203.4,368.4 206.0,368.0ZM171.1,408.0 171.5,408.2 178.1,405.6 174.5,396.9 171.1,398.9ZM180.9,353.7 180.4,354.2 180.3,356.5 181.9,358.3 183.9,357.7 184.9,355.6 184.8,355.3 181.2,353.7ZM152.6,391.4 146.3,394.1 145.6,397.3 152.9,395.8 153.5,392.8ZM184.3,396.8 182.0,398.2 180.6,403.2 180.6,405.2 185.0,406.9 186.2,397.0ZM219.2,359.2 220.1,359.5 220.8,360.5 220.4,361.8 223.0,360.1 223.6,358.2 222.0,355.8 220.0,356.7ZM218.3,362.2 220.0,362.1 220.2,361.9 218.8,361.8 218.6,361.5ZM157.2,360.9 158.2,358.9 157.7,357.3 156.8,356.4 151.4,359.1 155.6,361.4ZM185.3,361.7 185.8,360.0 183.9,357.7 181.9,358.3 181.7,359.1 183.4,362.5 184.3,362.7ZM184.5,387.0 188.5,385.7 185.0,382.6 183.8,383.6 183.6,385.7ZM150.6,362.8 151.0,359.4 146.4,359.7 146.0,361.7 150.1,363.2ZM147.3,378.8 141.4,381.1 141.1,381.9 143.8,382.3 146.7,384.8 147.5,386.1 148.8,383.2 148.5,380.1ZM220.1,377.6 220.3,379.9 223.3,381.1 226.2,377.5 226.0,376.1 225.2,375.1 220.3,377.0ZM176.9,392.1 180.6,392.1 181.1,391.0 181.1,390.2 179.3,387.3 178.0,386.5 177.2,387.0ZM104.0,393.9 104.0,394.0 98.0,399.0 92.0,399.0 96.0,405.0 99.8,408.8 105.9,405.5 108.4,397.1ZM158.0,418.9 144.7,415.3 144.1,422.7 155.9,428.5 158.2,419.6ZM133.8,357.4 137.9,357.6 136.1,351.5 132.9,352.4 132.3,355.3 132.5,356.3ZM166.8,397.7 166.9,407.7 171.1,408.0 171.1,398.9 169.0,397.1ZM150.6,388.2 148.2,387.3 149.0,388.5 147.7,392.8 146.2,392.9 146.3,394.1 152.6,391.4 152.6,390.6ZM123.8,387.8 120.6,397.6 123.1,398.0 128.5,394.8 127.8,388.4ZM126.7,357.8 126.6,356.3 125.0,354.5 121.2,355.9 120.4,358.5 120.5,358.7 121.2,358.9ZM141.4,354.1 146.3,354.5 146.8,352.2 145.3,350.1 140.8,351.1ZM186.2,397.0 185.0,406.9 187.2,408.3 190.1,405.4 188.8,397.2 186.3,396.8ZM212.2,378.4 207.6,377.5 207.6,377.5 211.9,382.6 212.5,381.5ZM216.6,389.2 214.0,393.2 216.4,395.6 217.1,395.5 219.3,393.7 217.8,389.5ZM224.9,395.6 224.9,401.7 226.5,401.7 226.5,403.8 228.2,404.6 228.0,395.2ZM189.2,422.2 189.5,422.4 192.0,423.0 192.2,424.0 198.3,427.8 202.0,425.0 207.0,420.0 206.8,419.5 197.6,415.3 189.4,417.1 189.0,417.9ZM155.8,388.7 152.6,390.6 152.6,391.4 153.5,392.8 157.5,392.5 156.0,388.7ZM151.5,369.8 157.7,369.0 157.7,367.8 154.1,364.8 149.9,368.7ZM213.1,386.3 212.5,391.7 213.8,393.2 214.0,393.2 216.6,389.2 214.5,386.9ZM209.3,393.7 210.4,395.2 210.8,395.3 213.8,393.2 212.5,391.7 210.0,391.4ZM172.3,365.7 170.9,366.5 170.4,368.8 172.0,370.6 175.0,367.1 174.9,366.9ZM212.7,358.3 212.6,357.8 212.5,357.9 211.3,358.1 210.9,357.0 210.9,357.0 207.0,359.3 207.2,360.4 208.2,362.0 209.9,361.6ZM155.9,428.5 156.1,429.7 163.3,437.4 173.2,429.3 172.2,420.8 158.2,419.6ZM201.5,362.0 200.6,361.1 198.2,361.0 196.4,365.8 197.7,366.4 201.8,364.5 201.9,364.2ZM200.1,377.0 200.1,377.0 200.0,376.1 194.4,374.6 194.2,375.0 195.5,379.1 198.4,379.5ZM207.6,377.5 206.5,379.6 207.7,382.5 211.7,384.3 211.9,382.6ZM166.9,467.8 150.1,465.3 146.8,466.2 150.7,471.6 157.0,475.5 162.5,474.0 163.4,469.0 167.1,468.3ZM236.0,369.1 238.3,366.8 237.7,363.9 232.7,357.6 231.9,357.5 231.9,357.6 229.9,361.6 234.9,369.4ZM215.4,370.0 214.2,369.3 210.7,372.6 210.7,373.4 211.6,373.8 215.6,373.4 216.8,372.2ZM184.5,350.6 186.3,352.6 187.9,352.5 189.9,350.3 186.1,348.2 184.4,349.5ZM185.0,371.6 187.6,373.0 190.9,369.9 189.6,366.6 189.4,366.4 186.5,366.6ZM200.9,351.6 199.0,353.1 201.2,356.3 201.5,356.4 203.8,354.3 203.6,352.8ZM216.1,352.7 213.6,353.8 213.1,356.1 216.3,357.3 218.2,356.1ZM151.4,359.1 156.8,356.4 156.2,355.0 151.2,355.7 150.6,356.6 151.3,359.1ZM222.2,349.4 218.9,351.2 222.4,354.7 224.1,353.3 224.9,351.2 224.5,350.4ZM174.0,418.0 189.0,417.9 189.4,417.1 187.2,408.3 185.0,406.9 180.6,405.2 178.1,405.6 171.5,408.2ZM224.7,390.1 224.6,389.8 224.0,389.8 219.8,393.8 221.9,395.3 224.5,395.2ZM142.3,458.1 145.3,464.0 146.8,466.2 150.1,465.3 166.6,450.9 164.8,445.3 163.8,444.2 150.2,447.9 144.0,453.9ZM181.7,359.1 178.8,360.8 179.0,361.7 181.3,363.3 183.4,362.5ZM148.8,383.2 153.9,384.0 154.8,383.5 155.2,382.0 152.6,379.1 148.5,380.1ZM203.0,391.8 200.5,392.3 199.8,394.6 202.2,396.9 204.8,395.2 205.0,393.5 204.9,393.1ZM168.6,364.4 167.3,368.4 170.4,368.8 170.9,366.5ZM207.3,376.1 207.6,377.5 212.2,378.4 213.3,377.3 211.6,373.8 210.7,373.4ZM223.5,416.2 221.4,421.4 215.0,430.0 210.7,437.3 211.9,439.2 212.8,438.5 223.0,426.5 229.5,416.2ZM157.5,392.5 159.7,393.9 160.8,390.7 159.4,388.0 157.4,387.4 156.0,388.7ZM154.1,364.8 157.7,367.8 159.0,365.6 159.0,364.3 157.2,360.9 155.6,361.4 153.9,364.0ZM165.9,376.3 167.9,379.4 170.6,377.0 169.4,373.5 167.3,373.5ZM204.9,393.1 205.0,393.5 209.3,393.7 210.0,391.4 209.1,389.8 207.4,389.9ZM183.8,383.6 185.0,382.6 186.5,378.9 184.1,378.1 180.9,378.5 179.0,382.1ZM219.0,403.7 215.5,397.1 212.9,398.8 212.8,398.9 212.8,406.0 215.8,406.0ZM176.9,392.1 174.7,393.6 175.2,395.7 177.6,396.4 180.3,395.2 181.0,393.7 180.6,392.1ZM194.0,381.1 195.5,379.1 194.2,375.0 188.6,377.4 188.2,378.3 191.6,382.3ZM185.7,366.1 186.5,366.6 189.4,366.4 189.9,364.9 189.0,362.5 185.3,361.7 184.3,362.7ZM228.2,404.6 233.3,408.2 236.8,399.0 239.0,392.9 238.1,392.6 229.3,394.2 228.0,395.2ZM169.8,362.0 171.1,361.1 169.1,357.3 168.2,356.9 167.6,356.9 164.0,359.9ZM120.5,382.2 120.0,383.0 123.8,387.8 127.8,388.4 131.0,385.9 127.4,381.3 125.1,380.8ZM120.0,383.0 116.5,384.1 113.5,396.3 117.5,398.1 120.6,397.6 123.8,387.8ZM128.5,354.9 128.9,351.6 125.0,353.0 125.0,354.5 126.6,356.3ZM164.5,354.3 165.2,354.2 166.5,351.8 164.0,349.9 162.4,353.0ZM219.9,388.3 224.0,389.8 224.6,389.8 224.8,389.5 225.0,387.2 223.6,384.6 220.1,386.0ZM227.0,355.0 226.9,357.9 231.9,357.6 231.9,357.5 230.6,354.2ZM128.2,361.9 132.6,361.8 133.8,357.4 132.5,356.3 128.0,359.7ZM166.6,450.9 171.2,456.5 177.0,457.4 178.6,455.6 180.5,450.0 185.5,445.0 185.8,443.0 184.7,440.5 164.8,445.3ZM164.0,349.9 163.8,349.2 160.9,349.6 159.9,351.8 161.3,353.1 162.4,353.0ZM204.8,395.2 202.2,396.9 200.8,399.8 201.6,404.4 202.5,405.1 206.8,405.1 207.0,398.0 207.1,398.0ZM171.5,377.2 175.6,373.8 172.2,371.7 169.4,373.5 170.6,377.0ZM213.1,356.1 213.6,353.8 211.6,352.1 209.7,352.4 209.6,352.4 209.2,354.9 211.2,356.6 211.5,356.1 212.7,355.9 212.9,356.3ZM164.0,365.7 164.6,364.0 163.5,361.1 159.0,364.3 159.0,365.6ZM129.8,406.0 140.2,401.6 139.3,400.2 133.1,395.1 128.5,394.8 123.1,398.0ZM119.6,367.5 119.5,367.6 120.3,371.3 123.4,371.9 128.1,369.3 128.1,365.1 127.8,364.5ZM146.2,392.9 143.1,393.1 140.3,393.6 139.3,393.7 139.3,400.2 140.2,401.6 142.2,402.3 145.6,397.3 146.3,394.1ZM176.0,364.2 173.9,361.7 172.0,361.4 172.3,365.7 174.9,366.9ZM224.5,350.4 224.9,351.2 227.3,350.9 228.4,348.0 225.6,345.5ZM188.1,436.1 189.5,434.0 195.5,430.0 198.3,427.8 192.2,424.0 193.0,428.0 189.0,429.5 188.0,426.5 187.0,426.6 184.3,432.0 185.7,436.1ZM159.7,380.1 158.7,381.3 159.8,383.7 162.4,384.3 162.0,380.4ZM202.9,391.3 198.5,391.1 200.5,392.3 203.0,391.8ZM192.9,394.5 190.0,393.9 188.8,397.2 192.4,397.5 193.3,396.5ZM159.4,376.9 161.3,375.9 161.3,373.2 158.2,370.0 156.1,373.6 156.3,376.6 156.7,376.8ZM227.4,371.7 223.0,370.5 222.3,371.8 225.2,375.0ZM206.7,370.1 210.6,372.4 210.1,367.5 206.5,368.4ZM239.5,356.5 243.8,355.9 243.8,350.8 236.6,350.1 237.3,354.8ZM119.5,367.6 115.9,365.6 109.6,368.3 113.2,374.3 119.5,372.4 120.3,371.3ZM164.2,394.6 165.9,397.5 166.8,397.7 169.0,397.1 169.6,392.5ZM160.8,390.7 163.7,389.0 164.8,386.4 163.0,384.8 159.4,388.0ZM134.9,385.7 134.1,375.4 127.4,381.3 131.0,385.9 134.3,386.0ZM191.6,404.5 190.1,405.4 187.2,408.3 189.4,417.1 197.6,415.3 202.5,405.1 201.6,404.4 194.9,403.6ZM199.1,347.5 197.4,349.9 198.3,352.7 198.9,353.1 199.0,353.1 200.9,351.6 201.1,347.9 200.8,347.3ZM172.2,420.8 174.0,418.0 171.5,408.2 171.1,408.0 166.9,407.7 160.0,408.3 158.0,418.9 158.2,419.6ZM224.9,351.2 224.1,353.3 227.0,355.0 230.6,354.2 230.8,352.5 227.3,350.9ZM168.0,495.8 168.8,495.0 174.0,486.0 177.4,476.3 172.4,476.7 167.9,484.0 166.5,483.4ZM163.0,356.7 163.8,360.0 164.0,359.9 167.6,356.9 165.2,354.2 164.5,354.3ZM237.7,363.9 239.5,356.5 237.3,354.8 232.7,357.6ZM149.9,368.7 154.1,364.8 153.9,364.0 150.6,362.8 150.1,363.2 148.4,368.2ZM225.2,375.1 226.0,376.1 232.7,374.3 234.5,369.6 234.4,369.6 231.0,370.0 227.4,371.7 225.2,375.0ZM197.1,397.0 200.8,399.8 202.2,396.9 199.8,394.6 197.6,395.6ZM134.2,416.4 129.3,407.2 123.1,411.4 123.0,413.4 127.1,417.9ZM177.6,396.4 180.6,403.2 182.0,398.2 180.3,395.2ZM192.4,397.5 191.6,404.5 194.9,403.6 195.9,397.5 193.3,396.5ZM231.0,370.0 226.1,368.1 223.0,369.9 223.0,370.5 227.4,371.7ZM223.0,369.9 226.1,368.1 224.5,364.6 221.5,367.4ZM232.7,374.3 232.3,379.2 236.6,380.9 241.6,377.3 236.0,369.1 234.9,369.4 234.5,369.6ZM185.5,391.7 186.0,389.7 184.6,388.1 181.1,390.2 181.1,391.0ZM169.1,357.3 174.2,353.6 174.1,353.4 169.1,351.4 168.2,356.9ZM152.1,372.9 156.1,373.6 158.2,370.0 158.2,369.8 157.7,369.0 151.5,369.8ZM163.5,361.1 163.6,360.2 158.2,358.9 157.2,360.9 159.0,364.3ZM174.7,382.2 172.2,380.5 169.3,381.9 169.3,382.3 173.1,384.1ZM199.3,369.3 197.7,366.4 196.4,365.8 196.1,365.8 196.0,366.0 193.6,371.0 194.5,372.2 198.4,370.9 199.1,370.1ZM215.8,379.8 212.5,381.5 211.9,382.6 211.7,384.3 212.1,385.2 212.3,385.4 218.8,380.9ZM174.5,396.9 178.1,405.6 180.6,405.2 180.6,403.2 177.6,396.4 175.2,395.7ZM115.2,358.6 113.0,354.0 106.8,352.8 106.5,354.4 108.6,362.1 114.5,360.6ZM123.9,361.8 128.1,362.1 128.2,361.9 128.0,359.7 126.7,357.8 121.2,358.9ZM184.7,440.5 185.8,443.0 186.5,438.5 188.1,436.1 185.7,436.1ZM204.4,445.8 211.9,439.2 210.7,437.3 210.0,438.5 199.9,446.3ZM195.9,397.5 197.1,397.0 197.6,395.6 196.2,392.8 193.9,393.0 192.9,394.5 193.3,396.5ZM171.1,361.1 171.6,361.2 174.7,355.5 174.3,353.7 174.2,353.6 169.1,357.3ZM193.9,393.0 192.6,390.0 190.0,390.3 189.2,392.9 190.0,393.9 192.9,394.5ZM212.4,385.6 209.1,389.8 210.0,391.4 212.5,391.7 213.1,386.3ZM161.3,353.1 160.6,355.5 163.0,356.7 164.5,354.3 162.4,353.0ZM217.8,389.5 219.3,393.7 219.8,393.8 224.0,389.8 219.9,388.3ZM207.0,359.3 206.9,359.0 201.9,357.5 200.6,361.1 201.5,362.0 207.2,360.4ZM180.3,356.5 180.4,354.2 174.3,353.7 174.7,355.5 177.1,358.5ZM173.6,387.5 173.1,384.1 169.3,382.3 169.0,383.0 171.8,388.5 172.0,388.7ZM157.3,385.3 159.8,383.7 158.7,381.3 156.8,380.9 155.2,382.0 154.8,383.5ZM121.2,355.9 119.9,353.1 115.3,352.0 113.0,354.0 115.2,358.6 120.4,358.5ZM241.6,377.3 244.5,378.5 248.0,372.8 242.8,371.0 238.5,371.0 242.0,367.7 242.0,366.2 238.3,366.8 236.0,369.1ZM136.6,364.5 138.0,357.7 137.9,357.6 133.8,357.4 132.6,361.8ZM176.4,374.0 175.6,373.8 171.5,377.2 172.8,379.0 175.5,378.3 176.8,374.2ZM127.4,381.3 134.1,375.4 134.2,375.1 126.3,375.1 125.1,380.8ZM109.0,409.0 109.0,417.0 108.9,417.4 111.1,416.6 111.4,411.8ZM105.9,405.5 99.8,408.8 100.0,409.0 108.2,408.1ZM156.8,380.9 158.7,381.3 159.7,380.1 159.4,376.9 156.7,376.8ZM194.5,372.2 194.4,374.6 200.0,376.1 199.9,375.5 200.2,375.2 198.4,370.9ZM160.0,408.3 158.2,406.2 143.9,404.8 142.8,412.4 144.7,415.3 158.0,418.9ZM214.5,386.9 216.6,389.2 217.8,389.5 219.9,388.3 220.1,386.0 218.9,384.5ZM206.7,370.1 206.5,368.4 206.0,368.0 203.4,368.4 203.0,372.4 204.0,374.4 204.4,374.4ZM209.6,352.4 209.7,352.4 207.7,348.3 207.3,348.2 205.2,350.1 205.2,350.7 207.3,352.7ZM226.2,377.5 223.3,381.1 223.8,381.8 226.0,382.0 229.7,379.3ZM136.6,364.5 137.5,366.6 142.2,362.2 141.6,358.2 140.1,357.3 138.0,357.7ZM219.7,373.1 218.3,372.3 216.8,372.2 215.6,373.4 215.7,376.2 220.1,377.6 220.3,377.0ZM207.4,398.0 212.4,398.0 210.8,395.3 210.4,395.2ZM156.7,346.1 156.4,346.0 152.2,346.8 151.8,350.9 156.1,353.3 157.4,352.0ZM217.0,363.0 218.3,362.2 218.6,361.5 217.8,360.5 218.6,359.0 219.2,359.2 220.0,356.7 218.2,356.1 216.3,357.3 216.1,362.1 216.4,362.7 216.8,363.0ZM189.6,356.4 191.6,355.1 190.5,350.4 190.2,350.3 189.9,350.3 187.9,352.5ZM164.8,386.4 163.7,389.0 164.9,391.2 168.4,391.5 165.1,386.4ZM105.9,405.5 108.2,408.1 109.0,408.0 109.0,409.0 111.4,411.8 118.3,408.0 117.5,398.1 113.5,396.3 108.4,397.1ZM157.5,392.5 153.5,392.8 152.9,395.8 158.1,399.4 159.8,394.3 159.7,393.9ZM171.8,388.5 169.0,383.0 165.5,386.2ZM162.0,380.4 162.4,384.3 162.9,384.8 165.5,380.8 162.9,379.2ZM222.3,371.8 219.7,373.1 220.3,377.0 225.2,375.1 225.2,375.0ZM150.0,432.6 146.2,439.4 150.2,447.9 163.8,444.2 163.3,437.4 156.1,429.7ZM223.0,370.5 223.0,369.9 221.5,367.4 219.7,367.0 218.3,372.3 219.7,373.1 222.3,371.8ZM120.0,366.3 119.6,367.5 127.8,364.5 128.1,362.1 123.9,361.8ZM206.7,356.1 206.1,355.2 203.8,354.3 201.5,356.4 201.9,357.5 206.9,359.0ZM164.8,368.3 165.7,369.0 167.3,368.4 168.6,364.4 168.5,364.0 164.6,364.0 164.0,365.7ZM163.8,360.0 163.6,360.2 163.5,361.1 164.6,364.0 168.5,364.0 169.8,362.0 164.0,359.9ZM222.0,355.8 222.4,354.7 218.9,351.2 217.9,350.9 217.1,351.2 216.1,352.7 218.2,356.1 220.0,356.7ZM184.3,371.7 182.8,373.4 184.1,378.1 186.5,378.9 188.2,378.3 188.6,377.4 187.6,373.0 185.0,371.6ZM173.2,429.3 184.3,432.0 187.0,426.6 183.0,427.0 182.0,423.0 186.0,421.5 189.2,422.3 189.2,422.2 189.0,417.9 174.0,418.0 172.2,420.8ZM153.5,386.6 150.6,388.2 152.6,390.6 155.8,388.7ZM211.7,384.3 207.7,382.5 205.3,384.5 205.3,384.9 206.4,386.4 212.1,385.2ZM156.1,373.6 152.1,372.9 151.5,374.4 154.1,377.1 156.3,376.6ZM137.0,367.7 128.1,365.1 128.1,369.3 135.3,373.1ZM120.6,397.6 117.5,398.1 118.3,408.0 123.1,411.4 129.3,407.2 129.8,406.0 123.1,398.0ZM157.7,357.3 158.2,358.9 163.6,360.2 163.8,360.0 163.0,356.7 160.6,355.5ZM164.7,499.0 168.0,495.8 166.5,483.4 162.5,481.5 158.9,482.4 158.0,487.9 152.5,492.4 152.3,493.5ZM227.3,361.7 226.1,358.6 223.6,358.2 223.0,360.1 225.5,363.7ZM184.9,355.6 183.9,357.7 185.8,360.0 189.2,358.0 189.2,357.3ZM194.3,386.4 194.0,386.4 193.6,388.6 196.0,390.0 197.0,387.1ZM102.1,376.0 102.8,377.8 112.0,376.4 113.2,374.3 109.6,368.3 105.7,367.2ZM128.1,362.1 127.8,364.5 128.1,365.1 137.0,367.7 137.5,366.9 137.5,366.6 136.6,364.5 132.6,361.8 128.2,361.9ZM231.9,357.6 226.9,357.9 226.1,358.6 227.3,361.7 229.9,361.6ZM203.4,381.0 201.9,378.2 201.0,378.3 200.1,377.0 198.4,379.5 199.2,382.2 200.9,382.6 203.2,381.4ZM205.0,393.5 204.8,395.2 207.1,398.0 207.4,398.0 210.4,395.2 209.3,393.7ZM145.1,362.7 142.2,362.2 137.5,366.6 137.5,366.9 146.3,368.4ZM168.4,391.5 164.9,391.2 163.5,394.3 164.2,394.6 169.6,392.5 169.7,392.3ZM169.8,362.0 168.5,364.0 168.6,364.4 170.9,366.5 172.3,365.7 172.0,361.4 171.6,361.2 171.1,361.1ZM185.9,392.8 185.5,391.7 181.1,391.0 180.6,392.1 181.0,393.7 183.0,394.3ZM172.0,370.6 172.2,371.7 175.6,373.8 176.4,374.0 176.4,367.9 175.0,367.1ZM180.1,366.3 181.3,363.3 179.0,361.7 176.9,364.1ZM180.9,378.5 184.1,378.1 182.8,373.4 177.8,373.9 177.4,374.2ZM225.6,345.5 228.4,348.0 234.9,347.6 235.0,347.1 234.0,347.0 225.5,345.3ZM216.4,395.6 215.5,397.1 219.0,403.7 221.0,402.9 221.0,401.7 221.4,401.7 220.9,400.1 217.1,395.5ZM235.0,348.1 236.6,350.1 243.8,350.8 245.5,348.8 244.5,348.0 235.0,347.1 234.9,347.6ZM187.6,373.0 188.6,377.4 194.2,375.0 194.4,374.6 194.5,372.2 193.6,371.0 190.9,369.9ZM180.1,351.0 176.9,350.4 174.7,351.9 174.1,353.4 174.2,353.6 174.3,353.7 180.4,354.2 180.9,353.7ZM132.9,352.4 131.8,351.6 129.3,351.2 128.9,351.6 128.5,354.9 132.3,355.3ZM225.0,387.2 224.8,389.5 233.5,389.0 230.8,384.8 229.2,384.6ZM150.6,356.6 146.5,355.4 145.4,357.8 146.4,359.7 151.0,359.4 151.3,359.1Z"/>
<path fill="#a0b8d2" d="M138.3,439.5 137.5,441.5 144.0,453.9 150.2,447.9 146.2,439.4 139.2,438.8ZM112.8,425.2 113.7,418.7 111.1,416.6 108.9,417.4 106.0,425.0 106.5,429.5ZM140.9,431.0 135.9,429.7 130.6,433.2 138.3,439.5 139.2,438.8ZM123.9,428.9 124.3,427.1 117.3,418.9 113.7,418.7 112.8,425.2 119.2,429.7ZM130.6,433.2 126.4,433.2 125.1,439.4 132.5,443.2 137.5,441.5 138.3,439.5ZM135.3,422.2 134.4,423.5 135.9,429.7 140.9,431.0 141.1,430.9 142.4,424.0Z"/>
<path fill="#7495b7" d="M216.4,362.7 214.8,362.9 210.4,366.2 210.5,367.1 213.6,368.1 216.8,363.0ZM135.7,345.7 133.7,347.4 136.2,351.4 138.9,349.8 139.0,347.0ZM139.2,334.1 139.0,334.1 138.7,334.3 138.4,339.3 140.9,339.5 142.8,336.3ZM120.4,358.5 115.2,358.6 114.5,360.6 115.9,365.6 119.5,367.6 119.6,367.5 120.0,366.3 120.5,358.7ZM158.2,369.8 164.8,368.3 164.0,365.7 159.0,365.6 157.7,367.8 157.7,369.0ZM169.4,373.5 172.2,371.7 172.0,370.6 170.4,368.8 167.3,368.4 165.7,369.0 165.6,371.4 167.3,373.5ZM226.0,382.0 223.8,381.8 223.6,384.6 225.0,387.2 229.2,384.6ZM124.5,342.6 125.0,342.2 125.3,339.7 124.4,339.1 119.7,338.8 119.2,339.2 120.9,342.9ZM165.5,380.8 162.9,384.8 163.0,384.8 164.8,386.4 165.1,386.4 165.5,386.2 169.0,383.0 169.3,382.3 169.3,381.9 167.9,380.1ZM192.6,390.0 193.6,388.6 194.0,386.4 191.6,384.1 189.0,385.9 188.8,389.0 190.0,390.3ZM153.4,333.4 154.4,334.4 156.2,333.7 158.4,330.1 157.5,329.1 155.9,328.9 154.0,330.2 153.4,333.4ZM198.4,342.3 198.4,341.6 198.1,341.4 195.0,341.3 194.8,345.5 195.7,345.5ZM210.1,367.5 210.5,367.1 210.4,366.2 208.2,362.1 205.8,364.8 206.0,368.0 206.5,368.4ZM206.1,355.2 206.7,356.1 209.2,354.9 209.6,352.4 207.3,352.7ZM159.2,335.3 157.9,338.0 159.8,339.9 160.1,339.9 162.9,337.1 162.7,335.8 161.2,334.1ZM171.9,344.8 171.2,347.3 173.5,348.5 175.3,346.5 174.7,345.3ZM121.2,347.7 115.5,351.1 115.3,352.0 119.9,353.1 122.3,350.8 121.8,347.9ZM154.6,337.1 154.4,334.4 153.4,333.4 150.2,335.3 151.3,337.0ZM203.0,372.4 199.1,370.1 198.4,370.9 200.2,375.2 201.1,374.6 202.7,374.8 202.8,375.1 204.0,374.4ZM203.4,368.4 202.5,368.0 199.3,369.3 199.1,370.1 203.0,372.4ZM206.5,379.6 203.4,381.0 203.2,381.4 205.3,384.5 207.7,382.5ZM146.4,359.7 145.4,357.8 141.6,358.2 142.2,362.2 145.1,362.7 146.0,361.7ZM166.5,333.3 170.7,333.0 171.6,332.0 171.4,331.1 168.4,329.6 167.0,329.8 166.2,332.6ZM174.7,345.3 175.3,346.5 177.9,346.8 178.7,346.4 179.6,344.2 176.0,341.5ZM186.4,332.2 185.5,333.3 185.5,335.5 188.3,336.9 190.2,333.4 189.8,332.8ZM134.6,336.7 131.7,335.9 130.3,339.0 131.3,340.1 135.1,337.9ZM194.9,403.6 201.6,404.4 200.8,399.8 197.1,397.0 195.9,397.5ZM185.1,341.8 189.0,342.7 190.1,341.4 190.6,339.9 188.8,338.2 185.0,339.8ZM219.7,367.0 218.8,366.2 215.4,370.0 216.8,372.2 218.3,372.3ZM125.0,354.5 125.0,353.0 124.5,352.1 122.3,350.8 119.9,353.1 121.2,355.9ZM162.5,326.4 160.5,330.9 161.2,331.7 165.7,328.7 165.5,328.1ZM218.6,347.8 220.9,347.0 220.2,343.5 216.1,344.3 215.9,344.4ZM123.5,335.1 124.4,339.1 125.3,339.7 127.5,338.6 127.4,333.9 126.4,333.5ZM136.2,341.4 131.7,341.3 131.2,343.6 135.2,344.8ZM139.3,393.7 136.0,394.2 134.0,390.5 134.2,386.6 133.1,395.1 139.3,400.2ZM168.2,356.9 169.1,351.4 168.9,351.2 166.5,351.8 165.2,354.2 167.6,356.9ZM211.6,344.9 209.8,347.4 211.9,350.6 214.3,348.7 213.8,344.8 212.6,344.3ZM165.7,328.7 167.0,329.8 168.4,329.6 169.6,325.6 167.5,324.1 165.5,328.1ZM195.8,357.7 201.2,356.3 199.0,353.1 198.9,353.1 195.6,357.1ZM210.9,357.0 211.2,356.6 209.2,354.9 206.7,356.1 206.9,359.0 207.0,359.3ZM148.1,334.9 150.2,335.3 153.4,333.4 153.4,333.4 149.8,331.6 147.9,333.1 147.9,334.6Z"/>
<path fill="#547da3" d="M147.7,323.2 144.6,322.2 141.7,322.2 141.3,322.6 141.0,323.6 141.0,325.4 141.7,326.4 145.7,328.4 147.5,327.3ZM216.1,344.3 216.9,341.1 214.2,336.7 214.0,336.7 212.5,339.3 212.2,343.0 212.6,344.3 213.8,344.8 215.9,344.4ZM189.0,328.5 190.7,324.1 188.7,323.8 186.8,325.1 187.0,328.3ZM177.7,319.3 179.5,315.3 174.5,315.9 173.8,317.2 174.1,317.7ZM179.5,323.5 182.8,321.2 181.6,319.5 178.1,320.1 177.5,323.2ZM190.4,329.5 189.0,328.5 187.0,328.3 186.1,329.0 186.4,332.2 189.8,332.8ZM179.4,334.6 180.7,335.4 183.2,332.5 182.7,331.6 181.0,331.0 178.8,333.9ZM181.0,349.1 178.7,346.4 177.9,346.8 176.9,350.4 180.1,351.0ZM144.6,322.2 147.3,316.7 147.1,316.3 146.8,316.1 144.1,315.8 141.8,320.2 141.7,322.2ZM145.4,331.1 145.7,328.4 141.7,326.4 141.2,330.2 143.9,331.8ZM131.5,325.7 133.1,328.4 136.4,327.6 134.8,324.2 133.1,323.3ZM152.2,318.7 153.2,317.0 151.0,313.9 147.1,316.3 147.3,316.7 147.6,317.0ZM173.4,321.5 172.1,321.9 171.5,325.8 172.1,326.2 174.3,325.6 176.0,323.5ZM149.8,331.6 150.4,328.7 150.2,328.4 147.5,327.3 145.7,328.4 145.4,331.1 147.9,333.1ZM160.5,330.9 158.4,330.1 156.2,333.7 159.2,335.3 161.2,334.1 161.2,331.8 161.2,331.7ZM147.7,323.2 147.8,323.1 148.7,322.0 147.6,317.0 147.3,316.7 144.6,322.2ZM167.8,344.7 165.3,343.5 163.9,346.9 164.2,347.9 168.9,348.0ZM197.8,331.7 200.3,332.0 200.8,331.8 202.9,329.1 202.1,327.9 199.6,327.3 198.2,327.9 197.2,330.7ZM189.9,350.3 190.2,350.3 190.2,346.6 188.5,344.9 186.5,346.0 186.1,348.2ZM127.5,338.6 130.3,339.0 131.7,335.9 131.6,334.3 129.9,332.9 127.4,333.9ZM167.5,324.1 167.4,323.8 164.1,323.7 162.3,326.0 162.5,326.4 165.5,328.1ZM212.2,343.0 212.5,339.3 208.1,338.8 207.7,341.1ZM199.6,327.3 199.9,324.1 195.8,324.2 195.4,324.6 198.2,327.9ZM139.0,334.1 139.9,331.1 137.3,328.8 135.4,332.3 135.5,332.7 136.4,333.5 138.7,334.3ZM145.7,339.0 145.3,340.4 147.4,342.9 150.1,343.3 151.1,341.2 150.0,339.0 147.6,337.7ZM119.3,345.2 116.8,344.7 114.9,345.8 115.5,351.1 121.2,347.7ZM127.4,333.9 129.9,332.9 130.1,331.2 127.8,328.1 125.4,331.3 126.4,333.5ZM194.0,330.6 195.0,330.2 193.6,325.9 190.6,329.4ZM197.2,330.7 198.2,327.9 195.4,324.6 193.8,324.7 193.6,325.9 195.0,330.2ZM185.0,339.8 188.8,338.2 188.3,336.9 185.5,335.5 182.3,337.5ZM221.2,347.1 220.9,347.0 218.6,347.8 217.9,350.9 218.9,351.2 222.2,349.4ZM159.1,325.1 157.3,323.7 153.7,325.0 155.9,328.9 157.5,329.1ZM178.1,320.1 181.6,319.5 182.4,315.7 180.0,315.0 180.0,315.0 179.5,315.3 177.7,319.3ZM198.4,341.6 200.5,340.4 200.6,340.1 199.0,336.8 196.3,336.2 198.1,341.4ZM175.3,346.5 173.5,348.5 174.7,351.9 176.9,350.4 177.9,346.8ZM175.8,339.5 175.6,334.9 173.5,334.3 171.8,339.8 171.8,339.9 175.2,340.1 175.8,339.5ZM191.7,323.9 193.2,324.3 194.2,319.6 191.3,318.5 190.6,319.6ZM201.3,335.9 199.0,336.8 200.6,340.1 203.9,337.0 203.3,336.3ZM193.6,325.9 193.8,324.7 193.2,324.3 191.7,323.9 190.7,324.1 189.0,328.5 190.4,329.5 190.6,329.4ZM141.7,345.1 144.7,346.1 147.4,342.9 145.3,340.4 143.1,340.8ZM200.3,332.0 201.3,335.9 203.3,336.3 203.5,333.4 200.8,331.8ZM134.8,324.2 136.4,327.6 137.3,328.0 141.0,325.4 141.0,323.6ZM178.4,329.6 180.3,329.0 180.7,328.1 178.0,326.1 176.8,328.0ZM175.8,339.5 175.2,340.1 176.0,341.5 179.6,344.2 181.3,343.5 181.3,338.7ZM130.0,345.2 128.0,345.0 125.8,347.7 126.5,349.3 128.9,350.4 130.1,345.4ZM147.9,334.6 147.9,333.1 145.4,331.1 143.9,331.8 143.4,332.9 144.1,335.3ZM190.2,333.4 192.4,333.9 194.0,330.6 190.6,329.4 190.4,329.5 189.8,332.8ZM173.5,334.3 172.4,332.5 171.6,332.0 170.7,333.0 169.0,338.4 171.8,339.8ZM159.2,335.3 156.2,333.7 154.4,334.4 154.6,337.1 155.1,338.1 157.9,338.0ZM204.4,340.4 202.0,341.5 202.6,344.9 206.0,343.1 206.2,342.1ZM177.9,333.5 178.8,333.9 181.0,331.0 180.3,329.0 178.4,329.6 177.1,331.8ZM207.6,335.7 207.1,333.1 204.6,332.6 203.5,333.4 203.3,336.3 203.9,337.0 204.4,337.2 207.0,336.7ZM204.4,337.2 203.9,337.0 200.6,340.1 200.5,340.4 202.0,341.5 204.4,340.4ZM164.1,323.7 162.8,321.8 161.3,321.5 159.8,325.0 162.3,326.0ZM174.1,353.4 174.7,351.9 173.5,348.5 171.2,347.3 169.1,348.1 168.9,351.2 169.1,351.4ZM207.0,347.8 207.3,348.2 207.7,348.3 209.8,347.4 211.6,344.9 206.7,343.9ZM167.9,322.1 166.0,319.3 165.0,319.0 162.8,321.8 164.1,323.7 167.4,323.8ZM153.4,333.4 154.0,330.2 150.4,328.7 149.8,331.6ZM203.2,324.2 201.2,323.0 199.9,324.1 199.6,327.3 202.1,327.9ZM198.1,341.4 196.3,336.2 196.3,336.2 194.7,336.5 192.9,339.0 195.0,341.3ZM133.1,323.0 128.8,319.9 127.8,320.9 127.9,326.5 131.5,325.7 133.1,323.3ZM162.9,337.1 166.3,339.7 168.9,338.4 166.3,334.5 162.7,335.8ZM184.4,349.5 186.1,348.2 186.5,346.0 182.8,344.0 183.0,348.8ZM143.6,336.2 145.7,339.0 147.6,337.7 148.1,334.9 147.9,334.6 144.1,335.3ZM203.5,333.4 204.6,332.6 203.9,329.3 202.9,329.1 200.8,331.8ZM131.2,343.6 131.7,341.3 131.3,340.1 130.3,339.0 127.5,338.6 125.3,339.7 125.0,342.2 128.0,345.0 130.0,345.2ZM132.9,329.7 135.4,332.3 137.3,328.8 137.3,328.0 136.4,327.6 133.1,328.4ZM141.7,322.2 141.8,320.2 137.9,315.0 135.7,315.8 135.2,316.7 135.1,317.0 135.5,319.5 141.3,322.6ZM169.5,321.2 168.7,320.0 170.0,318.2 170.4,318.2 170.6,317.3 168.5,316.9 166.0,319.3 167.9,322.1ZM186.9,320.3 188.7,323.8 190.7,324.1 191.7,323.9 190.6,319.6ZM159.8,339.9 156.4,343.4 156.4,346.0 156.7,346.1 158.4,346.2 159.5,345.6 161.8,342.2 160.1,339.9ZM178.4,329.6 176.8,328.0 175.8,328.1 175.0,329.3 176.7,331.7 177.1,331.8ZM182.7,344.0 182.8,344.0 186.5,346.0 188.5,344.9 189.0,342.7 185.1,341.8ZM135.5,319.5 133.1,323.0 133.1,323.3 134.8,324.2 141.0,323.6 141.3,322.6ZM179.4,334.6 178.8,333.9 177.9,333.5 175.6,334.9 175.8,339.5ZM186.8,325.1 188.7,323.8 186.9,320.3 186.5,320.1 184.0,321.7 184.1,324.1ZM196.3,336.2 196.3,336.2 199.0,336.8 201.3,335.9 200.3,332.0 197.8,331.7ZM131.8,351.6 132.9,352.4 136.1,351.5 136.2,351.4 133.7,347.4 132.1,347.3ZM221.2,347.1 222.2,349.4 224.5,350.4 225.6,345.5 225.5,345.3 225.3,345.3ZM211.9,350.6 209.8,347.4 207.7,348.3 209.7,352.4 211.6,352.1ZM161.8,342.2 164.8,342.4 166.3,339.7 162.9,337.1 160.1,339.9ZM122.4,347.6 125.8,347.7 128.0,345.0 125.0,342.2 124.5,342.6ZM171.2,342.4 171.9,344.8 174.7,345.3 176.0,341.5 175.2,340.1 171.8,339.9ZM201.5,345.9 202.5,345.1 202.6,344.9 202.0,341.5 200.5,340.4 198.4,341.6 198.4,342.3ZM175.6,334.9 177.9,333.5 177.1,331.8 176.7,331.7 172.4,332.5 173.5,334.3Z"/>
<path fill="#6287ab" d="M212.5,339.3 214.0,336.7 211.0,335.3 207.6,335.7 207.0,336.7 208.1,338.8ZM206.2,342.1 206.0,343.1 206.7,343.9 211.6,344.9 212.6,344.3 212.2,343.0 207.7,341.1ZM194.8,345.5 194.6,345.6 193.7,350.1 197.4,349.9 199.1,347.5 195.7,345.5ZM140.0,345.7 137.7,340.6 136.2,341.4 135.2,344.8 135.7,345.7 139.0,347.0ZM168.9,351.2 169.1,348.1 168.9,348.0 164.2,347.9 163.8,349.2 164.0,349.9 166.5,351.8ZM216.9,341.1 219.6,339.7 219.0,339.0 215.9,335.3 214.2,336.7ZM174.3,325.6 172.1,326.2 172.2,329.8 175.0,329.3 175.8,328.1ZM157.9,338.0 155.1,338.1 154.4,339.7 156.4,343.4 159.8,339.9ZM213.8,344.8 214.3,348.7 217.1,351.2 217.9,350.9 218.6,347.8 215.9,344.4ZM150.0,339.0 151.1,341.2 154.4,339.7 155.1,338.1 154.6,337.1 151.3,337.0ZM208.1,338.8 207.0,336.7 204.4,337.2 204.4,340.4 206.2,342.1 207.7,341.1ZM190.2,350.3 190.5,350.4 193.6,350.2 193.7,350.1 194.6,345.6 194.2,345.5 190.2,346.6ZM128.9,350.4 129.3,351.2 131.8,351.6 132.1,347.3 130.1,345.4ZM214.2,336.7 215.9,335.3 214.0,333.0 211.5,330.8 210.7,332.0 211.0,335.3 214.0,336.7ZM161.1,315.7 159.8,319.7 161.3,321.5 162.8,321.8 165.0,319.0 161.9,314.9ZM182.7,331.6 183.2,332.5 185.5,333.3 186.4,332.2 186.1,329.0 184.4,328.7ZM157.4,320.8 157.1,320.6 152.8,320.8 153.7,325.0 153.7,325.0 157.3,323.7ZM122.5,330.5 125.4,331.3 127.8,328.1 127.7,326.7 125.3,326.2 124.5,326.6 122.4,330.4ZM180.7,335.4 179.4,334.6 175.8,339.5 175.8,339.5 181.3,338.7 182.2,337.5ZM138.9,349.8 140.8,351.1 145.3,350.1 145.7,348.5 144.7,346.1 141.7,345.1 140.0,345.7 139.0,347.0ZM159.9,351.8 160.9,349.6 158.4,346.2 156.7,346.1 157.4,352.0ZM131.3,340.1 131.7,341.3 136.2,341.4 137.7,340.6 138.1,339.6 135.1,337.9ZM163.9,346.9 159.5,345.6 158.4,346.2 160.9,349.6 163.8,349.2 164.2,347.9ZM150.0,339.0 151.3,337.0 150.2,335.3 148.1,334.9 147.6,337.7ZM172.1,326.2 171.5,325.8 169.6,325.6 168.4,329.6 171.4,331.1 172.2,329.8ZM194.7,336.5 196.3,336.2 197.8,331.7 197.2,330.7 195.0,330.2 194.0,330.6 192.4,333.9ZM220.2,343.5 220.9,347.0 221.2,347.1 225.3,345.3 224.0,345.0 221.6,342.2ZM152.0,346.6 152.2,346.8 156.4,346.0 156.4,343.4 154.4,339.7 151.1,341.2 150.1,343.3ZM175.0,329.3 172.2,329.8 171.4,331.1 171.6,332.0 172.4,332.5 176.7,331.7ZM199.1,347.5 200.8,347.3 201.5,345.9 198.4,342.3 195.7,345.5ZM129.9,332.9 131.6,334.3 135.5,332.7 135.4,332.3 132.9,329.7 130.1,331.2ZM211.0,335.3 210.7,332.0 207.6,332.2 207.1,333.1 207.6,335.7ZM142.8,336.3 140.9,339.5 143.1,340.8 145.3,340.4 145.7,339.0 143.6,336.2ZM145.3,350.1 146.8,352.2 151.2,351.4 151.8,350.9 152.2,346.8 152.0,346.6 145.7,348.5ZM147.8,323.1 152.6,325.4 153.7,325.0 152.8,320.8 152.3,320.4 148.7,322.0ZM154.0,330.2 155.9,328.9 153.7,325.0 153.7,325.0 152.6,325.4 150.2,328.4 150.4,328.7ZM181.0,331.0 182.7,331.6 184.4,328.7 182.3,327.1 180.7,328.1 180.3,329.0ZM190.2,346.6 194.2,345.5 190.1,341.4 189.0,342.7 188.5,344.9ZM168.9,338.4 169.0,338.4 170.7,333.0 166.5,333.3 166.3,334.5ZM220.2,343.5 221.6,342.2 219.6,339.7 216.9,341.1 216.1,344.3ZM185.5,335.5 185.5,333.3 183.2,332.5 180.7,335.4 182.2,337.5 182.3,337.5ZM141.7,326.4 141.0,325.4 137.3,328.0 137.3,328.8 139.9,331.1 141.2,330.2ZM169.0,338.4 168.9,338.4 166.3,339.7 164.8,342.4 165.3,343.5 167.8,344.7 171.2,342.4 171.8,339.9 171.8,339.8Z"/>
<path fill="#688caf" d="M84.0,372.6 81.1,373.0 81.1,373.0 84.8,374.3ZM119.6,335.3 119.6,335.3 119.7,338.8 124.4,339.1 123.5,335.1 122.5,334.6ZM102.8,377.8 102.1,376.0 94.0,372.6 92.1,377.1 99.7,380.9 102.6,380.6ZM100.3,363.2 98.1,362.8 94.2,365.3 92.4,370.1 94.0,372.6 102.1,376.0 105.7,367.2 105.6,367.0ZM152.3,493.5 150.7,500.5 149.8,506.0 149.0,508.7 151.6,511.0 154.0,509.6 161.6,502.0 164.7,499.0Z"/>
<path fill="#6e90b3" d="M176.8,328.0 178.0,326.1 177.5,323.3 176.0,323.5 174.3,325.6 175.8,328.1ZM155.5,316.3 157.1,320.6 157.4,320.8 159.8,319.7 161.1,315.7ZM171.5,325.8 172.1,321.9 171.9,321.8 169.9,321.8 169.5,321.2 167.9,322.1 167.4,323.8 167.5,324.1 169.6,325.6ZM195.8,324.2 197.5,320.8 194.2,319.6 193.2,324.3 193.8,324.7 195.4,324.6ZM184.4,328.7 186.1,329.0 187.0,328.3 186.8,325.1 184.1,324.1 182.4,326.0 182.3,327.1ZM162.5,326.4 162.3,326.0 159.8,325.0 159.1,325.1 157.5,329.1 158.4,330.1 160.5,330.9ZM170.3,312.1 170.0,312.0 168.5,311.7 166.6,313.9 168.5,316.9 170.6,317.3 171.3,317.0ZM153.2,317.0 152.2,318.7 152.3,320.4 152.8,320.8 157.1,320.6 155.5,316.3 155.3,316.2ZM205.2,328.9 207.3,330.5 209.5,329.1 206.6,326.5ZM150.2,328.4 152.6,325.4 147.8,323.1 147.7,323.2 147.5,327.3Z"/>
<path fill="#7a9abb" d="M125.1,439.4 126.4,433.2 123.9,428.9 119.2,429.7 111.2,436.5 112.0,437.0 120.0,439.0 122.7,441.7ZM132.5,443.2 125.1,439.4 122.7,441.7 127.0,446.0 131.4,450.4ZM125.0,426.3 134.4,423.5 135.3,422.2 134.6,416.6 134.2,416.4 127.1,417.9Z"/>
<path fill="#d3c9c6" d="M48.0,391.0 53.0,386.0 60.0,381.0 63.0,377.0 68.0,377.0 73.0,383.0 76.0,391.0 78.0,396.0 72.0,397.0 64.0,399.0 54.0,395.0Z"/>
<path fill="#8da8c6" d="M73.0,383.0 68.0,377.0 63.0,377.0 70.0,369.0 78.0,372.0 90.0,376.0 100.0,381.0 104.0,387.0 104.0,394.0 98.0,399.0 92.0,399.0 78.0,396.0 76.0,391.0Z"/>
<path fill="#b3c7de" d="M77.0,410.0 88.0,407.0 96.0,405.0 100.0,409.0 109.0,408.0 109.0,417.0 106.0,425.0 107.0,434.0 102.0,431.0 100.0,426.0 86.0,426.0 83.0,427.0 83.0,417.0Z"/>
<path fill="#cfdcec" d="M42.0,399.0 46.0,395.0 53.0,394.0 52.5,399.0 46.0,402.0Z"/>
</g>
<path d="M248,372.8 L243.6,380 L236.8,399 L231.6,412.8 L223,426.5 L212.8,438.5 L199,450.5 L188.7,459 L181.5,466 L177.9,475 L174,486 L168.8,495 L161.6,502 L154,509.6" fill="none" stroke="#e3e3e7" stroke-width="2.2" transform="translate(1.6,1.0)"/>
<text x="185.4" y="399" font-size="8.6" fill="#7d7d7d" textLength="47" lengthAdjust="spacingAndGlyphs" stroke="#a9bdd2" stroke-opacity="0.6" stroke-width="1.4" paint-order="stroke">Porto Alegre</text>
<text x="84.5" y="425" font-size="8.2" fill="#777" textLength="20.5" lengthAdjust="spacingAndGlyphs" stroke="#c4d3e4" stroke-opacity="0.7" stroke-width="1.2" paint-order="stroke">Rivera</text>
</g>
<rect x="255.6" y="365" width="40" height="109" fill="#f3f3f3"/>
<rect x="295.8" y="357.00" width="23.4" height="13.25" fill="#4e7aa3"/>
<rect x="295.8" y="370.05" width="23.4" height="13.25" fill="#7294b6"/>
<rect x="295.8" y="383.10" width="23.4" height="13.25" fill="#92adca"/>
<rect x="295.8" y="396.15" width="23.4" height="13.25" fill="#b0c5dc"/>
<rect x="295.8" y="409.20" width="23.4" height="13.25" fill="#cddaeb"/>
<rect x="295.8" y="422.25" width="23.4" height="13.25" fill="#d6cdc9"/>
<rect x="295.8" y="435.30" width="23.4" height="13.25" fill="#d9bca8"/>
<rect x="295.8" y="448.35" width="23.4" height="13.25" fill="#c4a387"/>
<rect x="295.8" y="461.40" width="23.4" height="13.25" fill="#946a3e"/>
<path d="M284.6,365.4 L289.8,365.4 L294.6,370.1 L289.8,374.8 L284.6,374.8 Z" fill="#6b6b6b"/>
<path d="M294.6,370.1 L319.2,370.1" stroke="#7d8a97" stroke-opacity="0.55" stroke-width="0.8"/>
<text x="258.8" y="373.4" font-size="9.6" fill="#555" font-weight="bold" textLength="21" lengthAdjust="spacingAndGlyphs">100%</text>
<path d="M284.6,378.4 L289.8,378.4 L294.6,383.1 L289.8,387.8 L284.6,387.8 Z" fill="#6b6b6b"/>
<path d="M294.6,383.1 L319.2,383.1" stroke="#7d8a97" stroke-opacity="0.55" stroke-width="0.8"/>
<text x="263.9" y="386.5" font-size="9.6" fill="#555" font-weight="bold" textLength="15.9" lengthAdjust="spacingAndGlyphs">75%</text>
<path d="M284.6,391.4 L289.8,391.4 L294.6,396.1 L289.8,400.8 L284.6,400.8 Z" fill="#6b6b6b"/>
<path d="M294.6,396.1 L319.2,396.1" stroke="#7d8a97" stroke-opacity="0.55" stroke-width="0.8"/>
<text x="263.9" y="399.5" font-size="9.6" fill="#555" font-weight="bold" textLength="15.9" lengthAdjust="spacingAndGlyphs">50%</text>
<path d="M284.6,404.5 L289.8,404.5 L294.6,409.2 L289.8,413.9 L284.6,413.9 Z" fill="#6b6b6b"/>
<path d="M294.6,409.2 L319.2,409.2" stroke="#7d8a97" stroke-opacity="0.55" stroke-width="0.8"/>
<text x="263.9" y="412.6" font-size="9.6" fill="#555" font-weight="bold" textLength="15.9" lengthAdjust="spacingAndGlyphs">25%</text>
<path d="M284.6,417.6 L289.8,417.6 L294.6,422.2 L289.8,426.9 L284.6,426.9 Z" fill="#6b6b6b"/>
<path d="M294.6,422.2 L319.2,422.2" stroke="#7d8a97" stroke-opacity="0.55" stroke-width="0.8"/>
<text x="268.2" y="425.6" font-size="9.6" fill="#555" font-weight="bold" textLength="11.6" lengthAdjust="spacingAndGlyphs">0%</text>
<path d="M284.6,430.6 L289.8,430.6 L294.6,435.3 L289.8,440.0 L284.6,440.0 Z" fill="#6b6b6b"/>
<path d="M294.6,435.3 L319.2,435.3" stroke="#7d8a97" stroke-opacity="0.55" stroke-width="0.8"/>
<text x="261.1" y="438.7" font-size="9.6" fill="#555" font-weight="bold" textLength="18.7" lengthAdjust="spacingAndGlyphs">-25%</text>
<path d="M284.6,443.7 L289.8,443.7 L294.6,448.4 L289.8,453.1 L284.6,453.1 Z" fill="#6b6b6b"/>
<path d="M294.6,448.4 L319.2,448.4" stroke="#7d8a97" stroke-opacity="0.55" stroke-width="0.8"/>
<text x="261.1" y="451.8" font-size="9.6" fill="#555" font-weight="bold" textLength="18.7" lengthAdjust="spacingAndGlyphs">-50%</text>
<path d="M284.6,456.7 L289.8,456.7 L294.6,461.4 L289.8,466.1 L284.6,466.1 Z" fill="#6b6b6b"/>
<path d="M294.6,461.4 L319.2,461.4" stroke="#7d8a97" stroke-opacity="0.55" stroke-width="0.8"/>
<text x="261.1" y="464.8" font-size="9.6" fill="#555" font-weight="bold" textLength="18.7" lengthAdjust="spacingAndGlyphs">-75%</text>
<text x="331" y="364.3" font-size="13.5" fill="#5b5b5b" font-weight="bold" textLength="148" lengthAdjust="spacingAndGlyphs">Diferença relativa entre o</text>
<text x="331" y="380.2" font-size="13.5" fill="#5b5b5b" font-weight="bold" textLength="144.5" lengthAdjust="spacingAndGlyphs">volume de chuvas obser-</text>
<text x="331" y="396.0" font-size="13.5" fill="#5b5b5b" font-weight="bold" textLength="136.4" lengthAdjust="spacingAndGlyphs">vado de 2024 e a média</text>
<text x="331" y="411.9" font-size="13.5" fill="#5b5b5b" font-weight="bold" textLength="130.4" lengthAdjust="spacingAndGlyphs">dos 10 anos anteriores</text>
<text x="331" y="427.7" font-size="13.5" fill="#5b5b5b" font-weight="bold" textLength="134.6" lengthAdjust="spacingAndGlyphs">(meses abr, maio e jun)</text>
<path d="M374,430.2 L375.5,431.8 L377.0,430.2 L378.5,431.8 L380.0,430.2 L381.5,431.8 L383.0,430.2 L384.5,431.8 L386.0,430.2 L387.5,431.8 L389.0,430.2 L390.5,431.8 L392.0,430.2 L393.5,431.8 L394.5,430.2" fill="none" stroke="#e0221c" stroke-width="0.95"/>
<path d="M443,430.2 L444.5,431.8 L446.0,430.2 L447.5,431.8 L449.0,430.2 L450.5,431.8 L452.0,430.2 L453.5,431.8 L455.0,430.2 L456.5,431.8 L458.0,430.2 L459.5,431.8 L461.0,430.2 L462.5,431.8 L463.0,430.2" fill="none" stroke="#e0221c" stroke-width="0.95"/>
<path d="M607.00,356.10 A66.2 66.2 0 1 1 548.93,454.09 L577.62,438.39 A33.5 33.5 0 1 0 607.00,388.80 Z" fill="#ea8550" stroke="#f2f2f2" stroke-width="1.7" stroke-linejoin="round"/>
<path d="M548.93,454.09 A66.2 66.2 0 0 1 559.78,375.90 L583.11,398.82 A33.5 33.5 0 0 0 577.62,438.39 Z" fill="#2ea7d9" stroke="#f2f2f2" stroke-width="1.7" stroke-linejoin="round"/>
<path d="M559.78,375.90 A66.2 66.2 0 0 1 587.76,358.96 L597.26,390.25 A33.5 33.5 0 0 0 583.11,398.82 Z" fill="#a3def7" stroke="#f2f2f2" stroke-width="1.7" stroke-linejoin="round"/>
<path d="M587.76,358.96 A66.2 66.2 0 0 1 599.39,356.54 L603.15,389.02 A33.5 33.5 0 0 0 597.26,390.25 Z" fill="#41a32b" stroke="#f2f2f2" stroke-width="1.7" stroke-linejoin="round"/>
<path d="M599.39,356.54 A66.2 66.2 0 0 1 605.73,356.11 L606.36,388.81 A33.5 33.5 0 0 0 603.15,389.02 Z" fill="#c6c6c6" stroke="#f2f2f2" stroke-width="1.7" stroke-linejoin="round"/>
<path d="M605.73,356.11 A66.2 66.2 0 0 1 607.00,356.10 L607.00,388.80 A33.5 33.5 0 0 0 606.36,388.81 Z" fill="#e4e4e4" stroke="#f2f2f2" stroke-width="1.7" stroke-linejoin="round"/>
<text x="549.4" y="338.8" font-size="12.5" fill="#5b5b5b" font-weight="bold" textLength="228.5" lengthAdjust="spacingAndGlyphs">Parcela Indenizada por grupo de ramos</text>
<text x="636.9" y="453.6" font-size="15" fill="#000" font-weight="bold" textLength="27.4" lengthAdjust="spacingAndGlyphs">67%</text>
<text x="545.4" y="421" font-size="15" fill="#000" font-weight="bold" textLength="27.4" lengthAdjust="spacingAndGlyphs">20%</text>
<text x="566.6" y="384.4" font-size="15" fill="#000" font-weight="bold" textLength="19.8" lengthAdjust="spacingAndGlyphs">8%</text>
<text x="587.5" y="378.2" font-size="15" fill="#000" font-weight="bold" textLength="18.9" lengthAdjust="spacingAndGlyphs">3%</text>
<rect x="682.3" y="379.0" width="4.6" height="4.6" fill="#ea8550"/>
<text x="691" y="384.7" font-size="13" fill="#5f5f5f" textLength="62" lengthAdjust="spacingAndGlyphs">Patrimonial</text>
<rect x="682.3" y="398.8" width="4.6" height="4.6" fill="#2ea7d9"/>
<text x="691" y="404.5" font-size="13" fill="#5f5f5f" textLength="59.6" lengthAdjust="spacingAndGlyphs">Automóvel</text>
<rect x="682.3" y="418.5" width="4.6" height="4.6" fill="#a3def7"/>
<text x="691" y="424.2" font-size="13" fill="#5f5f5f" textLength="68.7" lengthAdjust="spacingAndGlyphs">Habitacional</text>
<rect x="682.3" y="438.2" width="4.6" height="4.6" fill="#41a32b"/>
<text x="691" y="444.0" font-size="13" fill="#5f5f5f" textLength="27.6" lengthAdjust="spacingAndGlyphs">Rural</text>
<rect x="682.3" y="458.0" width="4.6" height="4.6" fill="#c9c9c9"/>
<text x="691" y="463.7" font-size="13" fill="#5f5f5f" textLength="63.5" lengthAdjust="spacingAndGlyphs">Transportes</text>
<rect x="682.3" y="477.8" width="4.6" height="4.6" fill="#a3239a"/>
<text x="691" y="483.5" font-size="13" fill="#5f5f5f" textLength="99.6" lengthAdjust="spacingAndGlyphs">Pessoas Individual</text>
</svg></body></html>
